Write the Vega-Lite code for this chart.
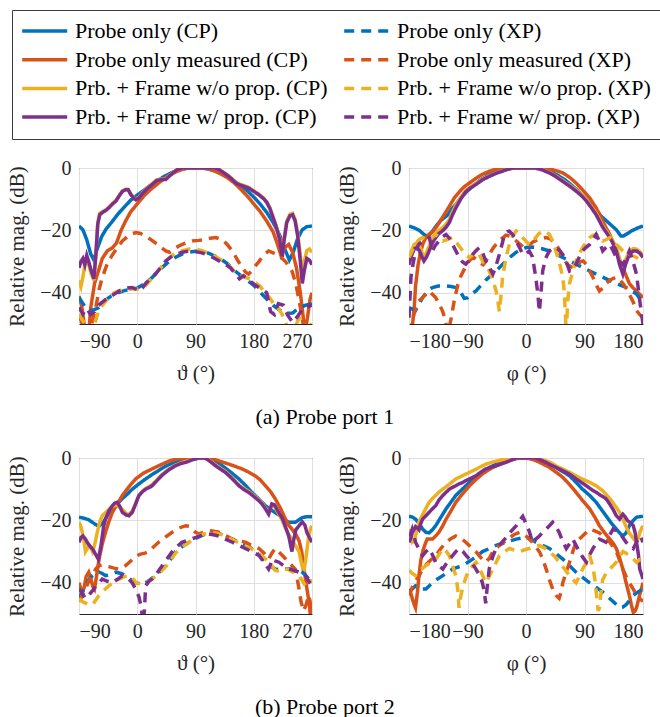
{
"$schema":"https://vega.github.io/schema/vega-lite/v6.json",
"background":"white",
"padding":{"left":6,"top":9,"right":2,"bottom":2},
"config":{
"font":"Liberation Serif",
"view":{"stroke":"#262626","strokeWidth":1},
"axis":{"labelFont":"Liberation Serif","labelFontSize":20,"titleFont":"Liberation Serif","titleFontSize":21,"titleFontWeight":"normal","labelColor":"#262626","titleColor":"#262626","domain":false,"ticks":false,"tickSize":0,"gridColor":"#dfdfdf","gridWidth":1,"gridOpacity":1,"labelPadding":8},
"axisX":{"labelPadding":7,"titlePadding":11},
"axisY":{"titlePadding":12},
"legend":{"columns":2,"symbolType":"M-1.2,0L3.8,0","symbolSize":324,"symbolStrokeWidth":3.5,"labelFont":"Liberation Serif","labelFontSize":22,"labelColor":"black","labelLimit":400,"labelOffset":31,"columnPadding":9,"rowPadding":6.7,"padding":10,"strokeColor":"#3c3c3c","fillColor":"white"},
"title":{"font":"Liberation Serif","fontSize":22,"fontWeight":"normal","color":"black"},
"line":{"strokeWidth":3.5,"clip":true}
},
"resolve":{"scale":{"color":"shared","strokeDash":"shared"},"legend":{"color":"shared","strokeDash":"shared"}},
"spacing":19,
"datasets":{
"p1":[
{"s":"C1","ang":-90,"dB":-18.6},{"s":"C1","ang":-84,"dB":-19.8},{"s":"C1","ang":-78,"dB":-23},{"s":"C1","ang":-72,"dB":-27.5},{"s":"C1","ang":-67,"dB":-29.5},{"s":"C1","ang":-62,"dB":-26},{"s":"C1","ang":-55,"dB":-22},{"s":"C1","ang":-48,"dB":-19.5},{"s":"C1","ang":-40,"dB":-17.5},{"s":"C1","ang":-30,"dB":-14.8},{"s":"C1","ang":-20,"dB":-12.5},{"s":"C1","ang":-10,"dB":-10.3},{"s":"C1","ang":0,"dB":-8.7},{"s":"C1","ang":10,"dB":-7.2},{"s":"C1","ang":20,"dB":-5.6},{"s":"C1","ang":30,"dB":-4.2},{"s":"C1","ang":40,"dB":-2.9},{"s":"C1","ang":50,"dB":-1.8},{"s":"C1","ang":60,"dB":-0.9},{"s":"C1","ang":70,"dB":-0.3},{"s":"C1","ang":80,"dB":0},{"s":"C1","ang":100,"dB":0},{"s":"C1","ang":110,"dB":-0.3},{"s":"C1","ang":120,"dB":-0.9},{"s":"C1","ang":130,"dB":-1.8},{"s":"C1","ang":140,"dB":-2.9},{"s":"C1","ang":150,"dB":-4.2},{"s":"C1","ang":160,"dB":-5.6},{"s":"C1","ang":170,"dB":-7.3},{"s":"C1","ang":180,"dB":-9.3},{"s":"C1","ang":190,"dB":-11.6},{"s":"C1","ang":200,"dB":-14.2},{"s":"C1","ang":210,"dB":-17.5},{"s":"C1","ang":220,"dB":-21.5},{"s":"C1","ang":228,"dB":-26},{"s":"C1","ang":235,"dB":-29.5},{"s":"C1","ang":241,"dB":-27},{"s":"C1","ang":248,"dB":-22.5},{"s":"C1","ang":255,"dB":-19.8},{"s":"C1","ang":262,"dB":-18.8},{"s":"C1","ang":270,"dB":-18.6},
{"s":"C2","ang":-90,"dB":-41},{"s":"C2","ang":-86,"dB":-44},{"s":"C2","ang":-82,"dB":-50},{"s":"C2","ang":-79,"dB":-54},{"s":"C2","ang":-75,"dB":-53},{"s":"C2","ang":-72,"dB":-45},{"s":"C2","ang":-66,"dB":-37},{"s":"C2","ang":-60,"dB":-33},{"s":"C2","ang":-54,"dB":-29},{"s":"C2","ang":-46,"dB":-26.5},{"s":"C2","ang":-38,"dB":-25.5},{"s":"C2","ang":-32,"dB":-24},{"s":"C2","ang":-25,"dB":-20},{"s":"C2","ang":-18,"dB":-17},{"s":"C2","ang":-10,"dB":-14},{"s":"C2","ang":0,"dB":-11.5},{"s":"C2","ang":10,"dB":-9},{"s":"C2","ang":20,"dB":-7},{"s":"C2","ang":30,"dB":-5.3},{"s":"C2","ang":40,"dB":-3.7},{"s":"C2","ang":50,"dB":-2.3},{"s":"C2","ang":60,"dB":-1.2},{"s":"C2","ang":70,"dB":-0.4},{"s":"C2","ang":80,"dB":0},{"s":"C2","ang":100,"dB":0},{"s":"C2","ang":110,"dB":-0.3},{"s":"C2","ang":120,"dB":-1},{"s":"C2","ang":130,"dB":-2},{"s":"C2","ang":140,"dB":-3.2},{"s":"C2","ang":150,"dB":-4.8},{"s":"C2","ang":160,"dB":-6.8},{"s":"C2","ang":170,"dB":-9},{"s":"C2","ang":180,"dB":-11.5},{"s":"C2","ang":190,"dB":-14},{"s":"C2","ang":200,"dB":-17},{"s":"C2","ang":210,"dB":-20.5},{"s":"C2","ang":216,"dB":-24},{"s":"C2","ang":222,"dB":-28},{"s":"C2","ang":228,"dB":-25.5},{"s":"C2","ang":234,"dB":-24.5},{"s":"C2","ang":240,"dB":-27},{"s":"C2","ang":246,"dB":-32},{"s":"C2","ang":252,"dB":-40},{"s":"C2","ang":256,"dB":-47},{"s":"C2","ang":259,"dB":-53},{"s":"C2","ang":263,"dB":-48},{"s":"C2","ang":267,"dB":-42},{"s":"C2","ang":270,"dB":-40},
{"s":"C3","ang":-90,"dB":-36},{"s":"C3","ang":-87,"dB":-38},{"s":"C3","ang":-84,"dB":-35},{"s":"C3","ang":-81,"dB":-31},{"s":"C3","ang":-78,"dB":-30},{"s":"C3","ang":-75,"dB":-31},{"s":"C3","ang":-71,"dB":-34},{"s":"C3","ang":-67,"dB":-36},{"s":"C3","ang":-64,"dB":-28},{"s":"C3","ang":-61,"dB":-17.5},{"s":"C3","ang":-58,"dB":-14.5},{"s":"C3","ang":-54,"dB":-14},{"s":"C3","ang":-48,"dB":-13.3},{"s":"C3","ang":-44,"dB":-12.6},{"s":"C3","ang":-38,"dB":-11.3},{"s":"C3","ang":-33,"dB":-10.4},{"s":"C3","ang":-28,"dB":-8.8},{"s":"C3","ang":-23,"dB":-7.3},{"s":"C3","ang":-18,"dB":-6.8},{"s":"C3","ang":-14,"dB":-6.8},{"s":"C3","ang":-10,"dB":-8.3},{"s":"C3","ang":-5,"dB":-9.6},{"s":"C3","ang":-2,"dB":-10},{"s":"C3","ang":3,"dB":-9.3},{"s":"C3","ang":8,"dB":-8},{"s":"C3","ang":15,"dB":-6.5},{"s":"C3","ang":23,"dB":-5.1},{"s":"C3","ang":30,"dB":-3.8},{"s":"C3","ang":38,"dB":-3.5},{"s":"C3","ang":44,"dB":-3.5},{"s":"C3","ang":50,"dB":-2.3},{"s":"C3","ang":56,"dB":-1.3},{"s":"C3","ang":62,"dB":-0.4},{"s":"C3","ang":68,"dB":0},{"s":"C3","ang":120,"dB":0},{"s":"C3","ang":126,"dB":-0.4},{"s":"C3","ang":132,"dB":-1.2},{"s":"C3","ang":140,"dB":-2.3},{"s":"C3","ang":147,"dB":-3.5},{"s":"C3","ang":152,"dB":-4.6},{"s":"C3","ang":157,"dB":-5.1},{"s":"C3","ang":164,"dB":-5.6},{"s":"C3","ang":172,"dB":-6.2},{"s":"C3","ang":180,"dB":-7.3},{"s":"C3","ang":188,"dB":-8.4},{"s":"C3","ang":195,"dB":-9.6},{"s":"C3","ang":200,"dB":-10.8},{"s":"C3","ang":205,"dB":-12.8},{"s":"C3","ang":210,"dB":-15.8},{"s":"C3","ang":215,"dB":-18.8},{"s":"C3","ang":220,"dB":-22.5},{"s":"C3","ang":224,"dB":-27.5},{"s":"C3","ang":227,"dB":-22.5},{"s":"C3","ang":231,"dB":-17},{"s":"C3","ang":236,"dB":-14.8},{"s":"C3","ang":240,"dB":-14.5},{"s":"C3","ang":244,"dB":-16.5},{"s":"C3","ang":248,"dB":-21},{"s":"C3","ang":252,"dB":-28},{"s":"C3","ang":255,"dB":-34},{"s":"C3","ang":258,"dB":-30},{"s":"C3","ang":262,"dB":-26.5},{"s":"C3","ang":266,"dB":-26},{"s":"C3","ang":270,"dB":-27},
{"s":"C4","ang":-90,"dB":-32},{"s":"C4","ang":-87,"dB":-30},{"s":"C4","ang":-84,"dB":-29},{"s":"C4","ang":-81,"dB":-31},{"s":"C4","ang":-78,"dB":-28},{"s":"C4","ang":-75,"dB":-30},{"s":"C4","ang":-71,"dB":-33},{"s":"C4","ang":-67,"dB":-35.5},{"s":"C4","ang":-64,"dB":-28},{"s":"C4","ang":-61,"dB":-18},{"s":"C4","ang":-58,"dB":-15},{"s":"C4","ang":-54,"dB":-14.3},{"s":"C4","ang":-48,"dB":-13.5},{"s":"C4","ang":-44,"dB":-12.8},{"s":"C4","ang":-38,"dB":-11.5},{"s":"C4","ang":-33,"dB":-10.6},{"s":"C4","ang":-28,"dB":-9},{"s":"C4","ang":-23,"dB":-7.5},{"s":"C4","ang":-18,"dB":-7},{"s":"C4","ang":-14,"dB":-7},{"s":"C4","ang":-10,"dB":-8.5},{"s":"C4","ang":-5,"dB":-9.8},{"s":"C4","ang":-2,"dB":-10.2},{"s":"C4","ang":3,"dB":-9.5},{"s":"C4","ang":8,"dB":-8.2},{"s":"C4","ang":15,"dB":-6.7},{"s":"C4","ang":23,"dB":-5.3},{"s":"C4","ang":30,"dB":-4},{"s":"C4","ang":38,"dB":-3.7},{"s":"C4","ang":44,"dB":-3.7},{"s":"C4","ang":50,"dB":-2.5},{"s":"C4","ang":56,"dB":-1.4},{"s":"C4","ang":62,"dB":-0.5},{"s":"C4","ang":68,"dB":0},{"s":"C4","ang":120,"dB":0},{"s":"C4","ang":126,"dB":-0.5},{"s":"C4","ang":132,"dB":-1.3},{"s":"C4","ang":140,"dB":-2.5},{"s":"C4","ang":147,"dB":-3.7},{"s":"C4","ang":152,"dB":-4.8},{"s":"C4","ang":157,"dB":-5.3},{"s":"C4","ang":164,"dB":-5.8},{"s":"C4","ang":172,"dB":-6.4},{"s":"C4","ang":180,"dB":-7.5},{"s":"C4","ang":188,"dB":-8.6},{"s":"C4","ang":195,"dB":-9.8},{"s":"C4","ang":200,"dB":-11},{"s":"C4","ang":205,"dB":-13},{"s":"C4","ang":210,"dB":-16},{"s":"C4","ang":215,"dB":-19},{"s":"C4","ang":220,"dB":-23},{"s":"C4","ang":224,"dB":-28.5},{"s":"C4","ang":227,"dB":-23},{"s":"C4","ang":231,"dB":-17.5},{"s":"C4","ang":236,"dB":-15.3},{"s":"C4","ang":240,"dB":-15},{"s":"C4","ang":244,"dB":-17},{"s":"C4","ang":248,"dB":-22},{"s":"C4","ang":252,"dB":-30},{"s":"C4","ang":255,"dB":-37},{"s":"C4","ang":258,"dB":-33},{"s":"C4","ang":262,"dB":-29},{"s":"C4","ang":266,"dB":-29.5},{"s":"C4","ang":270,"dB":-31},
{"s":"X1","ang":-90,"dB":-41.5},{"s":"X1","ang":-80,"dB":-44.7},{"s":"X1","ang":-70,"dB":-45.7},{"s":"X1","ang":-60,"dB":-44.8},{"s":"X1","ang":-50,"dB":-42.5},{"s":"X1","ang":-40,"dB":-41},{"s":"X1","ang":-30,"dB":-40},{"s":"X1","ang":-20,"dB":-39.3},{"s":"X1","ang":-10,"dB":-38.9},{"s":"X1","ang":0,"dB":-38.5},{"s":"X1","ang":10,"dB":-37.3},{"s":"X1","ang":20,"dB":-35.7},{"s":"X1","ang":30,"dB":-33.6},{"s":"X1","ang":40,"dB":-31.6},{"s":"X1","ang":50,"dB":-29.8},{"s":"X1","ang":60,"dB":-28.5},{"s":"X1","ang":70,"dB":-27.5},{"s":"X1","ang":80,"dB":-27},{"s":"X1","ang":90,"dB":-26.7},{"s":"X1","ang":100,"dB":-26.8},{"s":"X1","ang":110,"dB":-27.3},{"s":"X1","ang":120,"dB":-28.2},{"s":"X1","ang":130,"dB":-29.3},{"s":"X1","ang":140,"dB":-30.8},{"s":"X1","ang":150,"dB":-32.8},{"s":"X1","ang":160,"dB":-34.5},{"s":"X1","ang":170,"dB":-36},{"s":"X1","ang":180,"dB":-37.6},{"s":"X1","ang":190,"dB":-39.8},{"s":"X1","ang":200,"dB":-42},{"s":"X1","ang":210,"dB":-44},{"s":"X1","ang":220,"dB":-45.5},{"s":"X1","ang":230,"dB":-46.6},{"s":"X1","ang":240,"dB":-46.5},{"s":"X1","ang":250,"dB":-44.8},{"s":"X1","ang":260,"dB":-44},{"s":"X1","ang":270,"dB":-43.6},
{"s":"X2","ang":-90,"dB":-47},{"s":"X2","ang":-85,"dB":-50},{"s":"X2","ang":-80,"dB":-53},{"s":"X2","ang":-74,"dB":-53},{"s":"X2","ang":-68,"dB":-48},{"s":"X2","ang":-64,"dB":-44.7},{"s":"X2","ang":-59,"dB":-39},{"s":"X2","ang":-54,"dB":-35},{"s":"X2","ang":-46,"dB":-30.5},{"s":"X2","ang":-38,"dB":-27.7},{"s":"X2","ang":-30,"dB":-25.3},{"s":"X2","ang":-23,"dB":-23.4},{"s":"X2","ang":-15,"dB":-22},{"s":"X2","ang":-7,"dB":-21},{"s":"X2","ang":-2,"dB":-20.7},{"s":"X2","ang":5,"dB":-21},{"s":"X2","ang":13,"dB":-21.8},{"s":"X2","ang":20,"dB":-22.8},{"s":"X2","ang":28,"dB":-24},{"s":"X2","ang":36,"dB":-25.3},{"s":"X2","ang":44,"dB":-26.6},{"s":"X2","ang":50,"dB":-27},{"s":"X2","ang":57,"dB":-26},{"s":"X2","ang":64,"dB":-25},{"s":"X2","ang":75,"dB":-24},{"s":"X2","ang":85,"dB":-23.4},{"s":"X2","ang":95,"dB":-23.2},{"s":"X2","ang":105,"dB":-22.9},{"s":"X2","ang":113,"dB":-22.5},{"s":"X2","ang":121,"dB":-22.3},{"s":"X2","ang":131,"dB":-22.9},{"s":"X2","ang":139,"dB":-24.5},{"s":"X2","ang":147,"dB":-26.6},{"s":"X2","ang":155,"dB":-29.5},{"s":"X2","ang":162,"dB":-32},{"s":"X2","ang":168,"dB":-33.5},{"s":"X2","ang":172,"dB":-34},{"s":"X2","ang":177,"dB":-33},{"s":"X2","ang":182,"dB":-31.5},{"s":"X2","ang":188,"dB":-30},{"s":"X2","ang":195,"dB":-28},{"s":"X2","ang":203,"dB":-26.6},{"s":"X2","ang":211,"dB":-27.3},{"s":"X2","ang":219,"dB":-28},{"s":"X2","ang":229,"dB":-30},{"s":"X2","ang":239,"dB":-33},{"s":"X2","ang":245,"dB":-37},{"s":"X2","ang":250,"dB":-42.5},{"s":"X2","ang":255,"dB":-48},{"s":"X2","ang":258,"dB":-53},{"s":"X2","ang":270,"dB":-53},
{"s":"X3","ang":-90,"dB":-47},{"s":"X3","ang":-84,"dB":-49},{"s":"X3","ang":-78,"dB":-50.5},{"s":"X3","ang":-72,"dB":-53},{"s":"X3","ang":-66,"dB":-50},{"s":"X3","ang":-60,"dB":-46},{"s":"X3","ang":-54,"dB":-44},{"s":"X3","ang":-48,"dB":-42.5},{"s":"X3","ang":-40,"dB":-40.5},{"s":"X3","ang":-30,"dB":-39.5},{"s":"X3","ang":-20,"dB":-39},{"s":"X3","ang":-10,"dB":-38.8},{"s":"X3","ang":0,"dB":-38.8},{"s":"X3","ang":8,"dB":-38.6},{"s":"X3","ang":15,"dB":-37.2},{"s":"X3","ang":22,"dB":-35.5},{"s":"X3","ang":30,"dB":-33.5},{"s":"X3","ang":38,"dB":-31.5},{"s":"X3","ang":46,"dB":-29.5},{"s":"X3","ang":54,"dB":-28},{"s":"X3","ang":62,"dB":-27},{"s":"X3","ang":70,"dB":-26.5},{"s":"X3","ang":80,"dB":-26},{"s":"X3","ang":90,"dB":-26},{"s":"X3","ang":100,"dB":-26.5},{"s":"X3","ang":110,"dB":-27.3},{"s":"X3","ang":120,"dB":-28.3},{"s":"X3","ang":130,"dB":-29.5},{"s":"X3","ang":140,"dB":-31},{"s":"X3","ang":150,"dB":-33},{"s":"X3","ang":158,"dB":-34.5},{"s":"X3","ang":166,"dB":-35},{"s":"X3","ang":174,"dB":-35.5},{"s":"X3","ang":182,"dB":-36.5},{"s":"X3","ang":190,"dB":-38},{"s":"X3","ang":198,"dB":-40},{"s":"X3","ang":206,"dB":-42},{"s":"X3","ang":212,"dB":-44},{"s":"X3","ang":218,"dB":-45},{"s":"X3","ang":224,"dB":-47},{"s":"X3","ang":230,"dB":-50},{"s":"X3","ang":236,"dB":-52},{"s":"X3","ang":244,"dB":-51},{"s":"X3","ang":250,"dB":-48},{"s":"X3","ang":256,"dB":-50},{"s":"X3","ang":262,"dB":-51},{"s":"X3","ang":270,"dB":-50},
{"s":"X4","ang":-90,"dB":-44.7},{"s":"X4","ang":-84,"dB":-46.8},{"s":"X4","ang":-78,"dB":-45},{"s":"X4","ang":-72,"dB":-47},{"s":"X4","ang":-66,"dB":-46},{"s":"X4","ang":-60,"dB":-44},{"s":"X4","ang":-54,"dB":-43},{"s":"X4","ang":-48,"dB":-42},{"s":"X4","ang":-44,"dB":-41.5},{"s":"X4","ang":-36,"dB":-40.5},{"s":"X4","ang":-28,"dB":-39.4},{"s":"X4","ang":-18,"dB":-38.5},{"s":"X4","ang":-8,"dB":-38.3},{"s":"X4","ang":0,"dB":-39},{"s":"X4","ang":3,"dB":-39.4},{"s":"X4","ang":8,"dB":-38.5},{"s":"X4","ang":13,"dB":-37},{"s":"X4","ang":20,"dB":-35.5},{"s":"X4","ang":28,"dB":-34},{"s":"X4","ang":36,"dB":-32},{"s":"X4","ang":44,"dB":-29.8},{"s":"X4","ang":52,"dB":-28.5},{"s":"X4","ang":59,"dB":-27.7},{"s":"X4","ang":70,"dB":-27},{"s":"X4","ang":80,"dB":-26.6},{"s":"X4","ang":90,"dB":-26.8},{"s":"X4","ang":100,"dB":-27.2},{"s":"X4","ang":110,"dB":-28},{"s":"X4","ang":120,"dB":-29},{"s":"X4","ang":130,"dB":-30.2},{"s":"X4","ang":136,"dB":-30.8},{"s":"X4","ang":144,"dB":-32},{"s":"X4","ang":152,"dB":-34},{"s":"X4","ang":158,"dB":-35.5},{"s":"X4","ang":164,"dB":-34.5},{"s":"X4","ang":170,"dB":-35.5},{"s":"X4","ang":176,"dB":-36.5},{"s":"X4","ang":182,"dB":-37.5},{"s":"X4","ang":190,"dB":-38.5},{"s":"X4","ang":200,"dB":-40},{"s":"X4","ang":206,"dB":-46},{"s":"X4","ang":212,"dB":-47},{"s":"X4","ang":218,"dB":-43.5},{"s":"X4","ang":226,"dB":-44},{"s":"X4","ang":232,"dB":-47},{"s":"X4","ang":240,"dB":-49.5},{"s":"X4","ang":248,"dB":-47.5},{"s":"X4","ang":256,"dB":-45},{"s":"X4","ang":262,"dB":-44.5},{"s":"X4","ang":270,"dB":-44}
],
"p2":[
{"s":"C1","ang":-180,"dB":-18.6},{"s":"C1","ang":-172,"dB":-19.2},{"s":"C1","ang":-164,"dB":-20},{"s":"C1","ang":-156,"dB":-21.5},{"s":"C1","ang":-150,"dB":-21.8},{"s":"C1","ang":-144,"dB":-20.3},{"s":"C1","ang":-138,"dB":-18.5},{"s":"C1","ang":-132,"dB":-17},{"s":"C1","ang":-126,"dB":-16},{"s":"C1","ang":-120,"dB":-15},{"s":"C1","ang":-114,"dB":-13},{"s":"C1","ang":-108,"dB":-11.7},{"s":"C1","ang":-100,"dB":-9.5},{"s":"C1","ang":-90,"dB":-7.3},{"s":"C1","ang":-80,"dB":-5.5},{"s":"C1","ang":-70,"dB":-3.8},{"s":"C1","ang":-60,"dB":-2.5},{"s":"C1","ang":-50,"dB":-1.4},{"s":"C1","ang":-40,"dB":-0.6},{"s":"C1","ang":-30,"dB":-0.2},{"s":"C1","ang":-20,"dB":0},{"s":"C1","ang":10,"dB":0},{"s":"C1","ang":20,"dB":-0.2},{"s":"C1","ang":30,"dB":-0.6},{"s":"C1","ang":40,"dB":-1.4},{"s":"C1","ang":50,"dB":-2.5},{"s":"C1","ang":60,"dB":-3.8},{"s":"C1","ang":70,"dB":-5.5},{"s":"C1","ang":80,"dB":-7.3},{"s":"C1","ang":90,"dB":-9.5},{"s":"C1","ang":100,"dB":-11.7},{"s":"C1","ang":108,"dB":-13.5},{"s":"C1","ang":116,"dB":-15.5},{"s":"C1","ang":124,"dB":-17},{"s":"C1","ang":132,"dB":-18.5},{"s":"C1","ang":139,"dB":-19.8},{"s":"C1","ang":146,"dB":-21.8},{"s":"C1","ang":150,"dB":-21.8},{"s":"C1","ang":156,"dB":-21},{"s":"C1","ang":164,"dB":-20},{"s":"C1","ang":172,"dB":-19.2},{"s":"C1","ang":180,"dB":-18.6},
{"s":"C2","ang":-180,"dB":-53},{"s":"C2","ang":-175,"dB":-51},{"s":"C2","ang":-172,"dB":-45},{"s":"C2","ang":-170,"dB":-38},{"s":"C2","ang":-166,"dB":-31},{"s":"C2","ang":-162,"dB":-26.6},{"s":"C2","ang":-158,"dB":-24},{"s":"C2","ang":-154,"dB":-22.3},{"s":"C2","ang":-148,"dB":-21},{"s":"C2","ang":-144,"dB":-20.5},{"s":"C2","ang":-138,"dB":-19},{"s":"C2","ang":-132,"dB":-17},{"s":"C2","ang":-126,"dB":-15},{"s":"C2","ang":-118,"dB":-12.3},{"s":"C2","ang":-110,"dB":-9.5},{"s":"C2","ang":-102,"dB":-7.5},{"s":"C2","ang":-95,"dB":-6},{"s":"C2","ang":-87,"dB":-4.8},{"s":"C2","ang":-77,"dB":-3.3},{"s":"C2","ang":-67,"dB":-2},{"s":"C2","ang":-56,"dB":-1},{"s":"C2","ang":-45,"dB":-0.3},{"s":"C2","ang":-35,"dB":0},{"s":"C2","ang":30,"dB":0},{"s":"C2","ang":40,"dB":-0.5},{"s":"C2","ang":50,"dB":-1.1},{"s":"C2","ang":57,"dB":-1.6},{"s":"C2","ang":67,"dB":-3},{"s":"C2","ang":77,"dB":-4.8},{"s":"C2","ang":87,"dB":-7},{"s":"C2","ang":98,"dB":-9.6},{"s":"C2","ang":108,"dB":-12.8},{"s":"C2","ang":118,"dB":-17},{"s":"C2","ang":124,"dB":-19.5},{"s":"C2","ang":129,"dB":-21.3},{"s":"C2","ang":134,"dB":-24},{"s":"C2","ang":139,"dB":-26.6},{"s":"C2","ang":144,"dB":-29.5},{"s":"C2","ang":149,"dB":-32},{"s":"C2","ang":154,"dB":-34.5},{"s":"C2","ang":159,"dB":-37},{"s":"C2","ang":165,"dB":-38.5},{"s":"C2","ang":170,"dB":-39.4},{"s":"C2","ang":175,"dB":-40.5},{"s":"C2","ang":180,"dB":-41.5},
{"s":"C3","ang":-180,"dB":-29},{"s":"C3","ang":-176,"dB":-26.5},{"s":"C3","ang":-172,"dB":-24.5},{"s":"C3","ang":-168,"dB":-24},{"s":"C3","ang":-164,"dB":-25},{"s":"C3","ang":-160,"dB":-27},{"s":"C3","ang":-157,"dB":-28.5},{"s":"C3","ang":-153,"dB":-27},{"s":"C3","ang":-149,"dB":-25},{"s":"C3","ang":-144,"dB":-22.5},{"s":"C3","ang":-139,"dB":-21},{"s":"C3","ang":-134,"dB":-20},{"s":"C3","ang":-128.6,"dB":-19.2},{"s":"C3","ang":-123,"dB":-18},{"s":"C3","ang":-118,"dB":-16.5},{"s":"C3","ang":-113,"dB":-14},{"s":"C3","ang":-108,"dB":-12},{"s":"C3","ang":-100,"dB":-9.3},{"s":"C3","ang":-92.6,"dB":-7.2},{"s":"C3","ang":-85,"dB":-6},{"s":"C3","ang":-77,"dB":-5},{"s":"C3","ang":-67,"dB":-3.6},{"s":"C3","ang":-56.6,"dB":-2.5},{"s":"C3","ang":-46,"dB":-1.6},{"s":"C3","ang":-36,"dB":-0.9},{"s":"C3","ang":-28,"dB":-0.4},{"s":"C3","ang":-20,"dB":0},{"s":"C3","ang":15,"dB":0},{"s":"C3","ang":25,"dB":-0.5},{"s":"C3","ang":36,"dB":-1.4},{"s":"C3","ang":46,"dB":-2.6},{"s":"C3","ang":56.6,"dB":-4},{"s":"C3","ang":67,"dB":-5.5},{"s":"C3","ang":77,"dB":-7},{"s":"C3","ang":85,"dB":-8.4},{"s":"C3","ang":93,"dB":-10.2},{"s":"C3","ang":100,"dB":-12.2},{"s":"C3","ang":108,"dB":-14.5},{"s":"C3","ang":113,"dB":-16.5},{"s":"C3","ang":118,"dB":-18.5},{"s":"C3","ang":124,"dB":-20.3},{"s":"C3","ang":129,"dB":-21.8},{"s":"C3","ang":134,"dB":-23.5},{"s":"C3","ang":139,"dB":-25.5},{"s":"C3","ang":144,"dB":-29},{"s":"C3","ang":149,"dB":-32},{"s":"C3","ang":153,"dB":-29.5},{"s":"C3","ang":159,"dB":-26.8},{"s":"C3","ang":165,"dB":-25.8},{"s":"C3","ang":170,"dB":-26},{"s":"C3","ang":175,"dB":-26.8},{"s":"C3","ang":180,"dB":-28},
{"s":"C4","ang":-180,"dB":-31},{"s":"C4","ang":-176,"dB":-28},{"s":"C4","ang":-172,"dB":-26},{"s":"C4","ang":-168,"dB":-25.5},{"s":"C4","ang":-164,"dB":-26.5},{"s":"C4","ang":-160,"dB":-28.5},{"s":"C4","ang":-157,"dB":-29.8},{"s":"C4","ang":-153,"dB":-28.5},{"s":"C4","ang":-149,"dB":-26.6},{"s":"C4","ang":-144,"dB":-24},{"s":"C4","ang":-139,"dB":-22.3},{"s":"C4","ang":-134,"dB":-21},{"s":"C4","ang":-128.6,"dB":-20.2},{"s":"C4","ang":-123,"dB":-19},{"s":"C4","ang":-118,"dB":-17.5},{"s":"C4","ang":-113,"dB":-15},{"s":"C4","ang":-108,"dB":-12.8},{"s":"C4","ang":-100,"dB":-9.8},{"s":"C4","ang":-92.6,"dB":-7.6},{"s":"C4","ang":-85,"dB":-6.3},{"s":"C4","ang":-77,"dB":-5.3},{"s":"C4","ang":-67,"dB":-3.8},{"s":"C4","ang":-56.6,"dB":-2.7},{"s":"C4","ang":-46,"dB":-1.7},{"s":"C4","ang":-36,"dB":-1},{"s":"C4","ang":-28,"dB":-0.4},{"s":"C4","ang":-20,"dB":0},{"s":"C4","ang":15,"dB":0},{"s":"C4","ang":25,"dB":-0.6},{"s":"C4","ang":36,"dB":-1.6},{"s":"C4","ang":46,"dB":-2.8},{"s":"C4","ang":56.6,"dB":-4.3},{"s":"C4","ang":67,"dB":-5.8},{"s":"C4","ang":77,"dB":-7.4},{"s":"C4","ang":85,"dB":-8.8},{"s":"C4","ang":93,"dB":-10.6},{"s":"C4","ang":100,"dB":-12.6},{"s":"C4","ang":108,"dB":-15},{"s":"C4","ang":113,"dB":-17},{"s":"C4","ang":118,"dB":-19},{"s":"C4","ang":124,"dB":-20.8},{"s":"C4","ang":129,"dB":-22.3},{"s":"C4","ang":134,"dB":-24.2},{"s":"C4","ang":139,"dB":-26.6},{"s":"C4","ang":144,"dB":-31},{"s":"C4","ang":149,"dB":-34},{"s":"C4","ang":153,"dB":-31},{"s":"C4","ang":159,"dB":-27.7},{"s":"C4","ang":165,"dB":-26.6},{"s":"C4","ang":170,"dB":-26.6},{"s":"C4","ang":175,"dB":-27.3},{"s":"C4","ang":180,"dB":-28.7},
{"s":"X1","ang":-180,"dB":-44.7},{"s":"X1","ang":-170,"dB":-45.7},{"s":"X1","ang":-164,"dB":-43.5},{"s":"X1","ang":-159,"dB":-41.5},{"s":"X1","ang":-150,"dB":-39.2},{"s":"X1","ang":-144,"dB":-38.3},{"s":"X1","ang":-135,"dB":-37.8},{"s":"X1","ang":-123,"dB":-37.8},{"s":"X1","ang":-115,"dB":-38},{"s":"X1","ang":-108,"dB":-38.3},{"s":"X1","ang":-100,"dB":-40},{"s":"X1","ang":-95,"dB":-41.8},{"s":"X1","ang":-90,"dB":-41.6},{"s":"X1","ang":-84,"dB":-40.5},{"s":"X1","ang":-77,"dB":-39.4},{"s":"X1","ang":-70,"dB":-37.8},{"s":"X1","ang":-62,"dB":-36},{"s":"X1","ang":-54,"dB":-34.5},{"s":"X1","ang":-46,"dB":-33},{"s":"X1","ang":-38,"dB":-31.3},{"s":"X1","ang":-31,"dB":-29.8},{"s":"X1","ang":-23,"dB":-28.3},{"s":"X1","ang":-15,"dB":-27},{"s":"X1","ang":-8,"dB":-26.2},{"s":"X1","ang":0,"dB":-25.5},{"s":"X1","ang":8,"dB":-25.3},{"s":"X1","ang":15,"dB":-25.5},{"s":"X1","ang":25,"dB":-25.9},{"s":"X1","ang":36,"dB":-26.6},{"s":"X1","ang":46,"dB":-27.6},{"s":"X1","ang":56.6,"dB":-28.7},{"s":"X1","ang":67,"dB":-29.8},{"s":"X1","ang":77,"dB":-30.8},{"s":"X1","ang":88,"dB":-32},{"s":"X1","ang":98,"dB":-33},{"s":"X1","ang":108,"dB":-34},{"s":"X1","ang":118,"dB":-35},{"s":"X1","ang":128,"dB":-36},{"s":"X1","ang":139,"dB":-37},{"s":"X1","ang":147,"dB":-37.7},{"s":"X1","ang":154,"dB":-38.3},{"s":"X1","ang":162,"dB":-39.3},{"s":"X1","ang":170,"dB":-40.4},{"s":"X1","ang":175,"dB":-41.8},{"s":"X1","ang":180,"dB":-43.6},
{"s":"X2","ang":-180,"dB":-53},{"s":"X2","ang":-176,"dB":-50},{"s":"X2","ang":-172,"dB":-46.5},{"s":"X2","ang":-168,"dB":-44},{"s":"X2","ang":-164,"dB":-42.5},{"s":"X2","ang":-159,"dB":-41.5},{"s":"X2","ang":-154,"dB":-40.5},{"s":"X2","ang":-149,"dB":-39.4},{"s":"X2","ang":-144,"dB":-40.5},{"s":"X2","ang":-139,"dB":-41.5},{"s":"X2","ang":-134,"dB":-43.5},{"s":"X2","ang":-128,"dB":-46},{"s":"X2","ang":-123,"dB":-50},{"s":"X2","ang":-120,"dB":-53},{"s":"X2","ang":-115,"dB":-48},{"s":"X2","ang":-110,"dB":-42},{"s":"X2","ang":-105,"dB":-37.5},{"s":"X2","ang":-100,"dB":-34.5},{"s":"X2","ang":-95,"dB":-32.5},{"s":"X2","ang":-90,"dB":-30.5},{"s":"X2","ang":-85,"dB":-29.2},{"s":"X2","ang":-80,"dB":-28.7},{"s":"X2","ang":-75,"dB":-29.5},{"s":"X2","ang":-70,"dB":-30.5},{"s":"X2","ang":-66,"dB":-31},{"s":"X2","ang":-62,"dB":-30},{"s":"X2","ang":-56.6,"dB":-27.7},{"s":"X2","ang":-50,"dB":-25.5},{"s":"X2","ang":-46,"dB":-24.5},{"s":"X2","ang":-38,"dB":-22.8},{"s":"X2","ang":-31,"dB":-21.5},{"s":"X2","ang":-25,"dB":-21.8},{"s":"X2","ang":-18,"dB":-22.8},{"s":"X2","ang":-10,"dB":-24.3},{"s":"X2","ang":-4,"dB":-25.3},{"s":"X2","ang":0,"dB":-25.5},{"s":"X2","ang":5,"dB":-24.8},{"s":"X2","ang":10,"dB":-23.8},{"s":"X2","ang":15,"dB":-23.3},{"s":"X2","ang":22,"dB":-22.7},{"s":"X2","ang":31,"dB":-22.3},{"s":"X2","ang":38,"dB":-22.8},{"s":"X2","ang":46,"dB":-24.5},{"s":"X2","ang":52,"dB":-26.5},{"s":"X2","ang":56.6,"dB":-28.7},{"s":"X2","ang":64,"dB":-31},{"s":"X2","ang":72,"dB":-32},{"s":"X2","ang":78,"dB":-31},{"s":"X2","ang":84,"dB":-30},{"s":"X2","ang":88,"dB":-29.8},{"s":"X2","ang":93,"dB":-31},{"s":"X2","ang":98,"dB":-33},{"s":"X2","ang":103,"dB":-35},{"s":"X2","ang":108,"dB":-37.5},{"s":"X2","ang":113,"dB":-39.4},{"s":"X2","ang":118,"dB":-38.5},{"s":"X2","ang":123,"dB":-37},{"s":"X2","ang":130,"dB":-35.8},{"s":"X2","ang":139,"dB":-35},{"s":"X2","ang":144,"dB":-35.8},{"s":"X2","ang":149,"dB":-37},{"s":"X2","ang":154,"dB":-38.5},{"s":"X2","ang":159,"dB":-40.4},{"s":"X2","ang":165,"dB":-43},{"s":"X2","ang":170,"dB":-45.7},{"s":"X2","ang":175,"dB":-47},{"s":"X2","ang":180,"dB":-47.9},
{"s":"X3","ang":-180,"dB":-28.7},{"s":"X3","ang":-175,"dB":-26.5},{"s":"X3","ang":-170,"dB":-24.5},{"s":"X3","ang":-165,"dB":-23},{"s":"X3","ang":-159,"dB":-22.3},{"s":"X3","ang":-154,"dB":-22.8},{"s":"X3","ang":-149,"dB":-23.4},{"s":"X3","ang":-144,"dB":-22.3},{"s":"X3","ang":-139,"dB":-21.3},{"s":"X3","ang":-134,"dB":-22.2},{"s":"X3","ang":-128,"dB":-23.4},{"s":"X3","ang":-122,"dB":-23},{"s":"X3","ang":-113,"dB":-22.3},{"s":"X3","ang":-108,"dB":-23.5},{"s":"X3","ang":-103,"dB":-25},{"s":"X3","ang":-97,"dB":-26.6},{"s":"X3","ang":-92,"dB":-28},{"s":"X3","ang":-87,"dB":-28.7},{"s":"X3","ang":-82,"dB":-27.8},{"s":"X3","ang":-77,"dB":-26.6},{"s":"X3","ang":-72,"dB":-27.8},{"s":"X3","ang":-67,"dB":-29.8},{"s":"X3","ang":-62,"dB":-31.5},{"s":"X3","ang":-56.6,"dB":-33},{"s":"X3","ang":-51,"dB":-36},{"s":"X3","ang":-46,"dB":-39.4},{"s":"X3","ang":-43,"dB":-43},{"s":"X3","ang":-41,"dB":-46},{"s":"X3","ang":-38.5,"dB":-41},{"s":"X3","ang":-36,"dB":-35},{"s":"X3","ang":-31,"dB":-29},{"s":"X3","ang":-25.7,"dB":-24.5},{"s":"X3","ang":-20,"dB":-21.5},{"s":"X3","ang":-15,"dB":-20.2},{"s":"X3","ang":-10,"dB":-21},{"s":"X3","ang":-5,"dB":-22.3},{"s":"X3","ang":0,"dB":-23.5},{"s":"X3","ang":5,"dB":-24.5},{"s":"X3","ang":10,"dB":-23.5},{"s":"X3","ang":15,"dB":-22.3},{"s":"X3","ang":20,"dB":-21},{"s":"X3","ang":25.7,"dB":-20.2},{"s":"X3","ang":31,"dB":-20.5},{"s":"X3","ang":36,"dB":-21.3},{"s":"X3","ang":41,"dB":-23.5},{"s":"X3","ang":46,"dB":-26.6},{"s":"X3","ang":51,"dB":-30},{"s":"X3","ang":56.6,"dB":-35},{"s":"X3","ang":59,"dB":-40},{"s":"X3","ang":62,"dB":-53},{"s":"X3","ang":64,"dB":-43},{"s":"X3","ang":67,"dB":-37},{"s":"X3","ang":72,"dB":-33},{"s":"X3","ang":77,"dB":-29.8},{"s":"X3","ang":82,"dB":-27.5},{"s":"X3","ang":87,"dB":-25.5},{"s":"X3","ang":92,"dB":-24},{"s":"X3","ang":98,"dB":-22.3},{"s":"X3","ang":103,"dB":-21.6},{"s":"X3","ang":108,"dB":-21.3},{"s":"X3","ang":113,"dB":-22},{"s":"X3","ang":118,"dB":-23.4},{"s":"X3","ang":123,"dB":-23},{"s":"X3","ang":129,"dB":-22.3},{"s":"X3","ang":134,"dB":-23.2},{"s":"X3","ang":139,"dB":-24.5},{"s":"X3","ang":144,"dB":-25.5},{"s":"X3","ang":149,"dB":-26.6},{"s":"X3","ang":154,"dB":-27.2},{"s":"X3","ang":159,"dB":-27.7},{"s":"X3","ang":165,"dB":-28.2},{"s":"X3","ang":170,"dB":-28.7},{"s":"X3","ang":175,"dB":-29.3},{"s":"X3","ang":180,"dB":-29.8},
{"s":"X4","ang":-180,"dB":-48},{"s":"X4","ang":-177,"dB":-35},{"s":"X4","ang":-174,"dB":-31},{"s":"X4","ang":-170,"dB":-26.6},{"s":"X4","ang":-165,"dB":-24.5},{"s":"X4","ang":-159,"dB":-23.4},{"s":"X4","ang":-154,"dB":-22.8},{"s":"X4","ang":-149,"dB":-22.3},{"s":"X4","ang":-146,"dB":-24.5},{"s":"X4","ang":-144,"dB":-26.6},{"s":"X4","ang":-140,"dB":-25},{"s":"X4","ang":-134,"dB":-23.4},{"s":"X4","ang":-128,"dB":-22},{"s":"X4","ang":-123,"dB":-21.3},{"s":"X4","ang":-118,"dB":-22.5},{"s":"X4","ang":-113,"dB":-24.5},{"s":"X4","ang":-108,"dB":-26.5},{"s":"X4","ang":-103,"dB":-28.7},{"s":"X4","ang":-98,"dB":-30},{"s":"X4","ang":-92.6,"dB":-30.8},{"s":"X4","ang":-87,"dB":-29.5},{"s":"X4","ang":-82,"dB":-27.7},{"s":"X4","ang":-77,"dB":-26.5},{"s":"X4","ang":-72,"dB":-25.5},{"s":"X4","ang":-67,"dB":-27},{"s":"X4","ang":-62,"dB":-29.8},{"s":"X4","ang":-56,"dB":-32},{"s":"X4","ang":-51,"dB":-34},{"s":"X4","ang":-47,"dB":-32},{"s":"X4","ang":-41,"dB":-27.7},{"s":"X4","ang":-37,"dB":-24.5},{"s":"X4","ang":-33,"dB":-21.3},{"s":"X4","ang":-29,"dB":-20.5},{"s":"X4","ang":-25.7,"dB":-20.2},{"s":"X4","ang":-20,"dB":-21.5},{"s":"X4","ang":-15,"dB":-23.4},{"s":"X4","ang":-10,"dB":-25.5},{"s":"X4","ang":-5,"dB":-27.7},{"s":"X4","ang":0,"dB":-27.5},{"s":"X4","ang":5,"dB":-26.6},{"s":"X4","ang":10,"dB":-28.5},{"s":"X4","ang":15,"dB":-35},{"s":"X4","ang":18,"dB":-40},{"s":"X4","ang":20.6,"dB":-46},{"s":"X4","ang":23,"dB":-40},{"s":"X4","ang":25.7,"dB":-33},{"s":"X4","ang":30,"dB":-29},{"s":"X4","ang":36,"dB":-26.6},{"s":"X4","ang":41,"dB":-25.8},{"s":"X4","ang":46,"dB":-25.5},{"s":"X4","ang":51,"dB":-26.3},{"s":"X4","ang":56.6,"dB":-27.7},{"s":"X4","ang":62,"dB":-30},{"s":"X4","ang":67,"dB":-33},{"s":"X4","ang":72,"dB":-32.5},{"s":"X4","ang":77,"dB":-30.8},{"s":"X4","ang":82,"dB":-28.5},{"s":"X4","ang":87,"dB":-26.6},{"s":"X4","ang":92,"dB":-25.5},{"s":"X4","ang":98,"dB":-24.5},{"s":"X4","ang":103,"dB":-23},{"s":"X4","ang":108,"dB":-21.3},{"s":"X4","ang":113,"dB":-23.5},{"s":"X4","ang":118,"dB":-26.6},{"s":"X4","ang":123,"dB":-25.5},{"s":"X4","ang":129,"dB":-24.5},{"s":"X4","ang":134,"dB":-26.5},{"s":"X4","ang":139,"dB":-28.7},{"s":"X4","ang":144,"dB":-30},{"s":"X4","ang":149,"dB":-31},{"s":"X4","ang":154,"dB":-29},{"s":"X4","ang":159,"dB":-26.6},{"s":"X4","ang":164,"dB":-29.5},{"s":"X4","ang":170,"dB":-34},{"s":"X4","ang":175,"dB":-42.5},{"s":"X4","ang":180,"dB":-50}
],
"p3":[
{"s":"C1","ang":-90,"dB":-19},{"s":"C1","ang":-82,"dB":-19.3},{"s":"C1","ang":-75,"dB":-19.8},{"s":"C1","ang":-68,"dB":-20.8},{"s":"C1","ang":-62,"dB":-21.6},{"s":"C1","ang":-58,"dB":-21.7},{"s":"C1","ang":-52,"dB":-20.5},{"s":"C1","ang":-45,"dB":-18},{"s":"C1","ang":-38.5,"dB":-16.3},{"s":"C1","ang":-30,"dB":-14.5},{"s":"C1","ang":-23,"dB":-13},{"s":"C1","ang":-15,"dB":-11.5},{"s":"C1","ang":-7.7,"dB":-10},{"s":"C1","ang":0,"dB":-8.7},{"s":"C1","ang":13,"dB":-6.7},{"s":"C1","ang":23,"dB":-5.3},{"s":"C1","ang":33,"dB":-4},{"s":"C1","ang":45,"dB":-2.5},{"s":"C1","ang":59,"dB":-1.2},{"s":"C1","ang":70,"dB":-0.5},{"s":"C1","ang":85,"dB":0},{"s":"C1","ang":105,"dB":0},{"s":"C1","ang":115,"dB":-0.5},{"s":"C1","ang":125,"dB":-1.5},{"s":"C1","ang":136,"dB":-3.2},{"s":"C1","ang":146,"dB":-4.8},{"s":"C1","ang":157,"dB":-6.7},{"s":"C1","ang":167,"dB":-8.7},{"s":"C1","ang":177,"dB":-11},{"s":"C1","ang":188,"dB":-13.2},{"s":"C1","ang":198,"dB":-15.3},{"s":"C1","ang":208,"dB":-16.8},{"s":"C1","ang":219,"dB":-18.3},{"s":"C1","ang":228,"dB":-19.8},{"s":"C1","ang":234,"dB":-20.6},{"s":"C1","ang":244,"dB":-20.6},{"s":"C1","ang":250,"dB":-19.8},{"s":"C1","ang":255,"dB":-19.1},{"s":"C1","ang":262,"dB":-18.8},{"s":"C1","ang":270,"dB":-18.8},
{"s":"C2","ang":-90,"dB":-40},{"s":"C2","ang":-87,"dB":-42},{"s":"C2","ang":-85,"dB":-43.5},{"s":"C2","ang":-82,"dB":-41.5},{"s":"C2","ang":-79,"dB":-38},{"s":"C2","ang":-75,"dB":-36.6},{"s":"C2","ang":-72,"dB":-38.5},{"s":"C2","ang":-69,"dB":-41},{"s":"C2","ang":-66,"dB":-42},{"s":"C2","ang":-63,"dB":-38},{"s":"C2","ang":-59,"dB":-32.4},{"s":"C2","ang":-54,"dB":-27.5},{"s":"C2","ang":-49,"dB":-23.8},{"s":"C2","ang":-44,"dB":-20.5},{"s":"C2","ang":-38.5,"dB":-17.4},{"s":"C2","ang":-30,"dB":-14.5},{"s":"C2","ang":-23,"dB":-12},{"s":"C2","ang":-12,"dB":-9},{"s":"C2","ang":-2.5,"dB":-6.7},{"s":"C2","ang":10,"dB":-4.8},{"s":"C2","ang":23,"dB":-3.5},{"s":"C2","ang":36,"dB":-2.2},{"s":"C2","ang":49,"dB":-1},{"s":"C2","ang":62,"dB":-0.3},{"s":"C2","ang":74,"dB":0},{"s":"C2","ang":110,"dB":0},{"s":"C2","ang":123,"dB":-0.7},{"s":"C2","ang":136,"dB":-1.6},{"s":"C2","ang":149,"dB":-2.5},{"s":"C2","ang":162,"dB":-3.5},{"s":"C2","ang":172,"dB":-4.5},{"s":"C2","ang":182,"dB":-5.7},{"s":"C2","ang":190,"dB":-7},{"s":"C2","ang":198,"dB":-8.9},{"s":"C2","ang":206,"dB":-10.8},{"s":"C2","ang":213,"dB":-13},{"s":"C2","ang":221,"dB":-16},{"s":"C2","ang":229,"dB":-19.6},{"s":"C2","ang":234,"dB":-21.5},{"s":"C2","ang":239,"dB":-22.8},{"s":"C2","ang":245,"dB":-24.5},{"s":"C2","ang":250,"dB":-26.5},{"s":"C2","ang":254,"dB":-30},{"s":"C2","ang":257,"dB":-34.5},{"s":"C2","ang":260,"dB":-39},{"s":"C2","ang":263,"dB":-43},{"s":"C2","ang":266,"dB":-47},{"s":"C2","ang":268,"dB":-52},{"s":"C2","ang":270,"dB":-47},
{"s":"C3","ang":-90,"dB":-20.5},{"s":"C3","ang":-87,"dB":-22},{"s":"C3","ang":-85,"dB":-23.8},{"s":"C3","ang":-82,"dB":-27},{"s":"C3","ang":-80,"dB":-30},{"s":"C3","ang":-77,"dB":-29},{"s":"C3","ang":-74,"dB":-28},{"s":"C3","ang":-71,"dB":-29},{"s":"C3","ang":-69,"dB":-30},{"s":"C3","ang":-66,"dB":-28},{"s":"C3","ang":-62,"dB":-24},{"s":"C3","ang":-58,"dB":-20.5},{"s":"C3","ang":-54,"dB":-18.5},{"s":"C3","ang":-49,"dB":-17.5},{"s":"C3","ang":-44,"dB":-16.5},{"s":"C3","ang":-38.5,"dB":-15.5},{"s":"C3","ang":-31,"dB":-15},{"s":"C3","ang":-23,"dB":-16.5},{"s":"C3","ang":-17,"dB":-17.8},{"s":"C3","ang":-12.6,"dB":-18},{"s":"C3","ang":-7.7,"dB":-17},{"s":"C3","ang":-3,"dB":-14.8},{"s":"C3","ang":2.6,"dB":-12},{"s":"C3","ang":8,"dB":-10.7},{"s":"C3","ang":13,"dB":-9.8},{"s":"C3","ang":18,"dB":-9.2},{"s":"C3","ang":23,"dB":-8.5},{"s":"C3","ang":28,"dB":-7.5},{"s":"C3","ang":33,"dB":-6.4},{"s":"C3","ang":38,"dB":-5.3},{"s":"C3","ang":44,"dB":-4.3},{"s":"C3","ang":50,"dB":-3.4},{"s":"C3","ang":59,"dB":-2.3},{"s":"C3","ang":67,"dB":-1.6},{"s":"C3","ang":75,"dB":-1.1},{"s":"C3","ang":85,"dB":-0.5},{"s":"C3","ang":95,"dB":0},{"s":"C3","ang":105,"dB":0},{"s":"C3","ang":112,"dB":-0.8},{"s":"C3","ang":121,"dB":-2.2},{"s":"C3","ang":128,"dB":-3.2},{"s":"C3","ang":136,"dB":-4.3},{"s":"C3","ang":142,"dB":-5.4},{"s":"C3","ang":147,"dB":-6.4},{"s":"C3","ang":152,"dB":-7.5},{"s":"C3","ang":157,"dB":-8.6},{"s":"C3","ang":164,"dB":-9.7},{"s":"C3","ang":172,"dB":-10.7},{"s":"C3","ang":180,"dB":-12},{"s":"C3","ang":188,"dB":-13.4},{"s":"C3","ang":193,"dB":-14.5},{"s":"C3","ang":198,"dB":-16},{"s":"C3","ang":203,"dB":-17.5},{"s":"C3","ang":206,"dB":-16},{"s":"C3","ang":208,"dB":-15},{"s":"C3","ang":212,"dB":-15.5},{"s":"C3","ang":216,"dB":-17},{"s":"C3","ang":220,"dB":-18.5},{"s":"C3","ang":224,"dB":-20},{"s":"C3","ang":229,"dB":-22.5},{"s":"C3","ang":234,"dB":-24.5},{"s":"C3","ang":239,"dB":-26},{"s":"C3","ang":244,"dB":-28},{"s":"C3","ang":250,"dB":-30},{"s":"C3","ang":254,"dB":-34},{"s":"C3","ang":257,"dB":-36.6},{"s":"C3","ang":260,"dB":-33},{"s":"C3","ang":265,"dB":-24.9},{"s":"C3","ang":268,"dB":-22.5},{"s":"C3","ang":270,"dB":-21.7},
{"s":"C4","ang":-90,"dB":-27},{"s":"C4","ang":-87,"dB":-25.5},{"s":"C4","ang":-84,"dB":-25},{"s":"C4","ang":-80,"dB":-26},{"s":"C4","ang":-76,"dB":-27.5},{"s":"C4","ang":-72,"dB":-28.5},{"s":"C4","ang":-68,"dB":-29.5},{"s":"C4","ang":-64,"dB":-31},{"s":"C4","ang":-60,"dB":-32.5},{"s":"C4","ang":-56,"dB":-28},{"s":"C4","ang":-52,"dB":-22},{"s":"C4","ang":-49,"dB":-19.6},{"s":"C4","ang":-44,"dB":-17},{"s":"C4","ang":-38.5,"dB":-15.3},{"s":"C4","ang":-35,"dB":-14.5},{"s":"C4","ang":-31,"dB":-14.2},{"s":"C4","ang":-27,"dB":-15.5},{"s":"C4","ang":-23,"dB":-17.4},{"s":"C4","ang":-17,"dB":-18.3},{"s":"C4","ang":-12.6,"dB":-18.5},{"s":"C4","ang":-7.7,"dB":-17.4},{"s":"C4","ang":-3,"dB":-15},{"s":"C4","ang":2.6,"dB":-12},{"s":"C4","ang":8,"dB":-10.8},{"s":"C4","ang":13,"dB":-10},{"s":"C4","ang":18,"dB":-9.5},{"s":"C4","ang":23,"dB":-8.9},{"s":"C4","ang":28,"dB":-7.8},{"s":"C4","ang":33,"dB":-6.7},{"s":"C4","ang":38,"dB":-5.6},{"s":"C4","ang":44,"dB":-4.6},{"s":"C4","ang":50,"dB":-3.6},{"s":"C4","ang":59,"dB":-2.5},{"s":"C4","ang":67,"dB":-1.8},{"s":"C4","ang":75,"dB":-1.4},{"s":"C4","ang":85,"dB":-0.6},{"s":"C4","ang":95,"dB":0},{"s":"C4","ang":105,"dB":0},{"s":"C4","ang":112,"dB":-1},{"s":"C4","ang":121,"dB":-2.5},{"s":"C4","ang":128,"dB":-3.5},{"s":"C4","ang":136,"dB":-4.6},{"s":"C4","ang":142,"dB":-5.7},{"s":"C4","ang":147,"dB":-6.7},{"s":"C4","ang":152,"dB":-7.8},{"s":"C4","ang":157,"dB":-8.9},{"s":"C4","ang":164,"dB":-10},{"s":"C4","ang":172,"dB":-11},{"s":"C4","ang":180,"dB":-12.3},{"s":"C4","ang":188,"dB":-13.7},{"s":"C4","ang":193,"dB":-14.8},{"s":"C4","ang":198,"dB":-16.3},{"s":"C4","ang":203,"dB":-18},{"s":"C4","ang":206,"dB":-16},{"s":"C4","ang":208,"dB":-14.7},{"s":"C4","ang":212,"dB":-15},{"s":"C4","ang":216,"dB":-16.5},{"s":"C4","ang":220,"dB":-18},{"s":"C4","ang":224,"dB":-19.2},{"s":"C4","ang":229,"dB":-22},{"s":"C4","ang":234,"dB":-25},{"s":"C4","ang":237,"dB":-28},{"s":"C4","ang":239,"dB":-30},{"s":"C4","ang":241,"dB":-27},{"s":"C4","ang":245,"dB":-23},{"s":"C4","ang":250,"dB":-21.7},{"s":"C4","ang":255,"dB":-20.5},{"s":"C4","ang":259,"dB":-21.5},{"s":"C4","ang":262,"dB":-23.8},{"s":"C4","ang":266,"dB":-25.5},{"s":"C4","ang":270,"dB":-27},
{"s":"X1","ang":-90,"dB":-45},{"s":"X1","ang":-85,"dB":-43},{"s":"X1","ang":-80,"dB":-41},{"s":"X1","ang":-75,"dB":-39},{"s":"X1","ang":-69,"dB":-37.7},{"s":"X1","ang":-64,"dB":-37},{"s":"X1","ang":-59,"dB":-36.6},{"s":"X1","ang":-54,"dB":-37},{"s":"X1","ang":-49,"dB":-37.7},{"s":"X1","ang":-42,"dB":-37.3},{"s":"X1","ang":-33,"dB":-36.6},{"s":"X1","ang":-25,"dB":-37},{"s":"X1","ang":-18,"dB":-37.7},{"s":"X1","ang":-10,"dB":-39},{"s":"X1","ang":-2.5,"dB":-40},{"s":"X1","ang":5,"dB":-40.3},{"s":"X1","ang":13,"dB":-40},{"s":"X1","ang":20,"dB":-39},{"s":"X1","ang":28,"dB":-37.7},{"s":"X1","ang":36,"dB":-36.2},{"s":"X1","ang":44,"dB":-34.5},{"s":"X1","ang":52,"dB":-32.3},{"s":"X1","ang":59,"dB":-30},{"s":"X1","ang":70,"dB":-28.3},{"s":"X1","ang":80,"dB":-27},{"s":"X1","ang":90,"dB":-25.8},{"s":"X1","ang":100,"dB":-24.8},{"s":"X1","ang":110,"dB":-24},{"s":"X1","ang":116,"dB":-23.8},{"s":"X1","ang":126,"dB":-24.2},{"s":"X1","ang":136,"dB":-25},{"s":"X1","ang":146,"dB":-26},{"s":"X1","ang":157,"dB":-27},{"s":"X1","ang":167,"dB":-28},{"s":"X1","ang":177,"dB":-29},{"s":"X1","ang":188,"dB":-31},{"s":"X1","ang":198,"dB":-33.4},{"s":"X1","ang":206,"dB":-34.7},{"s":"X1","ang":213,"dB":-35.6},{"s":"X1","ang":221,"dB":-35.8},{"s":"X1","ang":229,"dB":-35.6},{"s":"X1","ang":237,"dB":-35.6},{"s":"X1","ang":244,"dB":-35.6},{"s":"X1","ang":250,"dB":-36},{"s":"X1","ang":255,"dB":-36.6},{"s":"X1","ang":260,"dB":-37.6},{"s":"X1","ang":265,"dB":-38.8},{"s":"X1","ang":270,"dB":-40},
{"s":"X2","ang":-90,"dB":-46},{"s":"X2","ang":-85,"dB":-44},{"s":"X2","ang":-80,"dB":-42},{"s":"X2","ang":-75,"dB":-39.5},{"s":"X2","ang":-69,"dB":-37.5},{"s":"X2","ang":-64,"dB":-35.5},{"s":"X2","ang":-59,"dB":-34.5},{"s":"X2","ang":-54,"dB":-34.3},{"s":"X2","ang":-49,"dB":-34.5},{"s":"X2","ang":-44,"dB":-34.8},{"s":"X2","ang":-36,"dB":-35.3},{"s":"X2","ang":-28,"dB":-35.6},{"s":"X2","ang":-23,"dB":-35.2},{"s":"X2","ang":-18,"dB":-34.5},{"s":"X2","ang":-10,"dB":-33},{"s":"X2","ang":-2.5,"dB":-31.5},{"s":"X2","ang":5,"dB":-30.8},{"s":"X2","ang":12,"dB":-30.5},{"s":"X2","ang":18,"dB":-30},{"s":"X2","ang":25,"dB":-28.5},{"s":"X2","ang":33,"dB":-27},{"s":"X2","ang":44,"dB":-25.3},{"s":"X2","ang":54,"dB":-23.8},{"s":"X2","ang":64,"dB":-22.5},{"s":"X2","ang":75,"dB":-21.7},{"s":"X2","ang":80,"dB":-21.9},{"s":"X2","ang":85,"dB":-22.8},{"s":"X2","ang":90,"dB":-23.8},{"s":"X2","ang":95,"dB":-24.3},{"s":"X2","ang":102,"dB":-23.8},{"s":"X2","ang":110,"dB":-23.3},{"s":"X2","ang":118,"dB":-23.5},{"s":"X2","ang":126,"dB":-23.8},{"s":"X2","ang":136,"dB":-24.8},{"s":"X2","ang":147,"dB":-26},{"s":"X2","ang":157,"dB":-26.5},{"s":"X2","ang":167,"dB":-27},{"s":"X2","ang":177,"dB":-28},{"s":"X2","ang":188,"dB":-29},{"s":"X2","ang":196,"dB":-30.5},{"s":"X2","ang":203,"dB":-32.4},{"s":"X2","ang":208,"dB":-30.5},{"s":"X2","ang":213,"dB":-29},{"s":"X2","ang":218,"dB":-30},{"s":"X2","ang":224,"dB":-31.2},{"s":"X2","ang":229,"dB":-32.3},{"s":"X2","ang":234,"dB":-33.4},{"s":"X2","ang":239,"dB":-34.5},{"s":"X2","ang":244,"dB":-35.6},{"s":"X2","ang":247,"dB":-38.5},{"s":"X2","ang":250,"dB":-42},{"s":"X2","ang":253,"dB":-46},{"s":"X2","ang":257,"dB":-49},{"s":"X2","ang":261,"dB":-47},{"s":"X2","ang":265,"dB":-44},{"s":"X2","ang":268,"dB":-47},{"s":"X2","ang":270,"dB":-49},
{"s":"X3","ang":-90,"dB":-45},{"s":"X3","ang":-85,"dB":-46},{"s":"X3","ang":-80,"dB":-46.5},{"s":"X3","ang":-75,"dB":-47},{"s":"X3","ang":-69,"dB":-47},{"s":"X3","ang":-64,"dB":-45.5},{"s":"X3","ang":-59,"dB":-44},{"s":"X3","ang":-52,"dB":-42.5},{"s":"X3","ang":-44,"dB":-41},{"s":"X3","ang":-36,"dB":-39.8},{"s":"X3","ang":-28,"dB":-38.8},{"s":"X3","ang":-20,"dB":-38},{"s":"X3","ang":-12.6,"dB":-37.7},{"s":"X3","ang":-5,"dB":-39},{"s":"X3","ang":-2.5,"dB":-40},{"s":"X3","ang":5,"dB":-40.3},{"s":"X3","ang":13,"dB":-40},{"s":"X3","ang":20,"dB":-39.2},{"s":"X3","ang":28,"dB":-38},{"s":"X3","ang":36,"dB":-36.5},{"s":"X3","ang":44,"dB":-34.8},{"s":"X3","ang":52,"dB":-32.7},{"s":"X3","ang":59,"dB":-30.5},{"s":"X3","ang":70,"dB":-28.5},{"s":"X3","ang":80,"dB":-27},{"s":"X3","ang":90,"dB":-25.5},{"s":"X3","ang":100,"dB":-24.5},{"s":"X3","ang":110,"dB":-24},{"s":"X3","ang":120,"dB":-24},{"s":"X3","ang":130,"dB":-24.5},{"s":"X3","ang":140,"dB":-25.5},{"s":"X3","ang":150,"dB":-26.5},{"s":"X3","ang":160,"dB":-27.5},{"s":"X3","ang":170,"dB":-28.5},{"s":"X3","ang":180,"dB":-29.5},{"s":"X3","ang":190,"dB":-31},{"s":"X3","ang":198,"dB":-32.3},{"s":"X3","ang":203,"dB":-33.4},{"s":"X3","ang":208,"dB":-34.5},{"s":"X3","ang":213,"dB":-36},{"s":"X3","ang":219,"dB":-36.3},{"s":"X3","ang":226,"dB":-35.5},{"s":"X3","ang":234,"dB":-35.8},{"s":"X3","ang":240,"dB":-36.5},{"s":"X3","ang":245,"dB":-37.2},{"s":"X3","ang":250,"dB":-37.7},{"s":"X3","ang":255,"dB":-39.3},{"s":"X3","ang":260,"dB":-41},{"s":"X3","ang":265,"dB":-40},{"s":"X3","ang":270,"dB":-39},
{"s":"X4","ang":-90,"dB":-42},{"s":"X4","ang":-85,"dB":-43.5},{"s":"X4","ang":-80,"dB":-45},{"s":"X4","ang":-75,"dB":-44},{"s":"X4","ang":-69,"dB":-42.5},{"s":"X4","ang":-64,"dB":-41},{"s":"X4","ang":-59,"dB":-40},{"s":"X4","ang":-54,"dB":-38.8},{"s":"X4","ang":-46,"dB":-39.5},{"s":"X4","ang":-38.5,"dB":-40},{"s":"X4","ang":-30,"dB":-38.8},{"s":"X4","ang":-23,"dB":-37.7},{"s":"X4","ang":-15,"dB":-38.5},{"s":"X4","ang":-7.7,"dB":-40},{"s":"X4","ang":-2.5,"dB":-42},{"s":"X4","ang":2.6,"dB":-44.5},{"s":"X4","ang":6,"dB":-47.5},{"s":"X4","ang":9,"dB":-53},{"s":"X4","ang":11,"dB":-49},{"s":"X4","ang":13,"dB":-41},{"s":"X4","ang":18,"dB":-39.5},{"s":"X4","ang":23,"dB":-38.8},{"s":"X4","ang":30,"dB":-37},{"s":"X4","ang":38.5,"dB":-34.5},{"s":"X4","ang":46,"dB":-32.3},{"s":"X4","ang":54,"dB":-30},{"s":"X4","ang":62,"dB":-28.3},{"s":"X4","ang":69,"dB":-27},{"s":"X4","ang":80,"dB":-26.2},{"s":"X4","ang":90,"dB":-25.5},{"s":"X4","ang":98,"dB":-24.9},{"s":"X4","ang":105,"dB":-24.4},{"s":"X4","ang":116,"dB":-24.5},{"s":"X4","ang":126,"dB":-25},{"s":"X4","ang":136,"dB":-26},{"s":"X4","ang":147,"dB":-27},{"s":"X4","ang":157,"dB":-28},{"s":"X4","ang":167,"dB":-29},{"s":"X4","ang":177,"dB":-30},{"s":"X4","ang":188,"dB":-31.2},{"s":"X4","ang":196,"dB":-33.5},{"s":"X4","ang":203,"dB":-35.6},{"s":"X4","ang":206,"dB":-34},{"s":"X4","ang":208,"dB":-32.4},{"s":"X4","ang":213,"dB":-33},{"s":"X4","ang":219,"dB":-33.4},{"s":"X4","ang":226,"dB":-34.5},{"s":"X4","ang":234,"dB":-35.6},{"s":"X4","ang":242,"dB":-36},{"s":"X4","ang":250,"dB":-36.6},{"s":"X4","ang":255,"dB":-37},{"s":"X4","ang":260,"dB":-37.7},{"s":"X4","ang":265,"dB":-39.5},{"s":"X4","ang":270,"dB":-41}
],
"p4":[
{"s":"C1","ang":-180,"dB":-18.7},{"s":"C1","ang":-175,"dB":-18.9},{"s":"C1","ang":-170,"dB":-19.6},{"s":"C1","ang":-164,"dB":-21},{"s":"C1","ang":-159,"dB":-22.8},{"s":"C1","ang":-154,"dB":-23.8},{"s":"C1","ang":-149,"dB":-24},{"s":"C1","ang":-144,"dB":-23},{"s":"C1","ang":-139,"dB":-21.7},{"s":"C1","ang":-131,"dB":-19},{"s":"C1","ang":-123,"dB":-16.3},{"s":"C1","ang":-115,"dB":-14},{"s":"C1","ang":-108,"dB":-12},{"s":"C1","ang":-97,"dB":-9.8},{"s":"C1","ang":-87,"dB":-7.8},{"s":"C1","ang":-77,"dB":-6.1},{"s":"C1","ang":-67,"dB":-4.6},{"s":"C1","ang":-56,"dB":-3},{"s":"C1","ang":-46,"dB":-2},{"s":"C1","ang":-41,"dB":-1.6},{"s":"C1","ang":-30,"dB":-0.8},{"s":"C1","ang":-15,"dB":0},{"s":"C1","ang":15,"dB":0},{"s":"C1","ang":25,"dB":-0.7},{"s":"C1","ang":36,"dB":-1.8},{"s":"C1","ang":46,"dB":-3},{"s":"C1","ang":56,"dB":-4.3},{"s":"C1","ang":67,"dB":-5.7},{"s":"C1","ang":77,"dB":-7.8},{"s":"C1","ang":87,"dB":-10},{"s":"C1","ang":98,"dB":-12},{"s":"C1","ang":108,"dB":-14.2},{"s":"C1","ang":116,"dB":-16.5},{"s":"C1","ang":123,"dB":-18.5},{"s":"C1","ang":131,"dB":-20.8},{"s":"C1","ang":139,"dB":-22.8},{"s":"C1","ang":144,"dB":-24},{"s":"C1","ang":149,"dB":-25},{"s":"C1","ang":154,"dB":-24},{"s":"C1","ang":159,"dB":-21.7},{"s":"C1","ang":165,"dB":-20},{"s":"C1","ang":170,"dB":-19},{"s":"C1","ang":175,"dB":-18.8},{"s":"C1","ang":180,"dB":-18.7},
{"s":"C2","ang":-180,"dB":-42},{"s":"C2","ang":-177,"dB":-43.5},{"s":"C2","ang":-175,"dB":-45},{"s":"C2","ang":-172,"dB":-47},{"s":"C2","ang":-170,"dB":-48},{"s":"C2","ang":-167,"dB":-43},{"s":"C2","ang":-164.6,"dB":-37.7},{"s":"C2","ang":-162,"dB":-33},{"s":"C2","ang":-159,"dB":-30},{"s":"C2","ang":-155,"dB":-27.5},{"s":"C2","ang":-152,"dB":-26},{"s":"C2","ang":-148,"dB":-26},{"s":"C2","ang":-144,"dB":-26},{"s":"C2","ang":-139,"dB":-25},{"s":"C2","ang":-134,"dB":-23.8},{"s":"C2","ang":-128,"dB":-21.7},{"s":"C2","ang":-123,"dB":-19.6},{"s":"C2","ang":-115,"dB":-16.8},{"s":"C2","ang":-108,"dB":-14.2},{"s":"C2","ang":-97,"dB":-11.3},{"s":"C2","ang":-87,"dB":-8.9},{"s":"C2","ang":-77,"dB":-6.9},{"s":"C2","ang":-67,"dB":-5.1},{"s":"C2","ang":-56,"dB":-3.6},{"s":"C2","ang":-46,"dB":-2.5},{"s":"C2","ang":-36,"dB":-1.5},{"s":"C2","ang":-25,"dB":-0.8},{"s":"C2","ang":-15,"dB":-0.2},{"s":"C2","ang":-5,"dB":0},{"s":"C2","ang":5,"dB":-0.2},{"s":"C2","ang":15,"dB":-0.8},{"s":"C2","ang":25,"dB":-1.8},{"s":"C2","ang":36,"dB":-3},{"s":"C2","ang":46,"dB":-4.5},{"s":"C2","ang":56.6,"dB":-6.2},{"s":"C2","ang":67,"dB":-8.5},{"s":"C2","ang":77,"dB":-11},{"s":"C2","ang":87,"dB":-13.6},{"s":"C2","ang":98,"dB":-16.3},{"s":"C2","ang":106,"dB":-19},{"s":"C2","ang":113,"dB":-21.7},{"s":"C2","ang":121,"dB":-24},{"s":"C2","ang":129,"dB":-26},{"s":"C2","ang":134,"dB":-27.3},{"s":"C2","ang":139,"dB":-29},{"s":"C2","ang":144,"dB":-32},{"s":"C2","ang":149,"dB":-35.6},{"s":"C2","ang":154,"dB":-40},{"s":"C2","ang":159,"dB":-44},{"s":"C2","ang":162,"dB":-47},{"s":"C2","ang":165,"dB":-49.5},{"s":"C2","ang":168,"dB":-49},{"s":"C2","ang":170,"dB":-48},{"s":"C2","ang":173,"dB":-45.5},{"s":"C2","ang":176,"dB":-43},{"s":"C2","ang":180,"dB":-40},
{"s":"C3","ang":-180,"dB":-22.8},{"s":"C3","ang":-178,"dB":-24.5},{"s":"C3","ang":-175,"dB":-27},{"s":"C3","ang":-172,"dB":-26.5},{"s":"C3","ang":-170,"dB":-25},{"s":"C3","ang":-167,"dB":-22.5},{"s":"C3","ang":-164.6,"dB":-20.5},{"s":"C3","ang":-160,"dB":-18.5},{"s":"C3","ang":-155,"dB":-16.5},{"s":"C3","ang":-149,"dB":-14.2},{"s":"C3","ang":-144,"dB":-13},{"s":"C3","ang":-139,"dB":-12},{"s":"C3","ang":-134,"dB":-11},{"s":"C3","ang":-128,"dB":-10},{"s":"C3","ang":-118,"dB":-8.4},{"s":"C3","ang":-108,"dB":-6.7},{"s":"C3","ang":-97,"dB":-5.6},{"s":"C3","ang":-87,"dB":-4.6},{"s":"C3","ang":-77,"dB":-3.6},{"s":"C3","ang":-70,"dB":-2.8},{"s":"C3","ang":-62,"dB":-2},{"s":"C3","ang":-50,"dB":-1.2},{"s":"C3","ang":-36,"dB":-0.5},{"s":"C3","ang":-20,"dB":0},{"s":"C3","ang":15,"dB":0},{"s":"C3","ang":25,"dB":-0.5},{"s":"C3","ang":36,"dB":-1.3},{"s":"C3","ang":46,"dB":-2.5},{"s":"C3","ang":56,"dB":-3.5},{"s":"C3","ang":67,"dB":-4.6},{"s":"C3","ang":77,"dB":-5.7},{"s":"C3","ang":87,"dB":-6.8},{"s":"C3","ang":98,"dB":-7.8},{"s":"C3","ang":108,"dB":-8.9},{"s":"C3","ang":118,"dB":-10.5},{"s":"C3","ang":129,"dB":-13},{"s":"C3","ang":136,"dB":-15},{"s":"C3","ang":144,"dB":-17.4},{"s":"C3","ang":150,"dB":-20},{"s":"C3","ang":155,"dB":-22.5},{"s":"C3","ang":159,"dB":-24},{"s":"C3","ang":164,"dB":-25.5},{"s":"C3","ang":168,"dB":-26.5},{"s":"C3","ang":170,"dB":-27},{"s":"C3","ang":173,"dB":-25.5},{"s":"C3","ang":175,"dB":-24},{"s":"C3","ang":178,"dB":-22.5},{"s":"C3","ang":180,"dB":-21.7},
{"s":"C4","ang":-180,"dB":-27},{"s":"C4","ang":-177,"dB":-25.5},{"s":"C4","ang":-175,"dB":-24},{"s":"C4","ang":-172,"dB":-22.8},{"s":"C4","ang":-170,"dB":-22},{"s":"C4","ang":-167,"dB":-22.5},{"s":"C4","ang":-164.6,"dB":-23},{"s":"C4","ang":-162,"dB":-21},{"s":"C4","ang":-159,"dB":-19.6},{"s":"C4","ang":-154,"dB":-18.5},{"s":"C4","ang":-149,"dB":-17.4},{"s":"C4","ang":-144,"dB":-16.3},{"s":"C4","ang":-139,"dB":-15.3},{"s":"C4","ang":-134,"dB":-13.5},{"s":"C4","ang":-128,"dB":-12},{"s":"C4","ang":-123,"dB":-11},{"s":"C4","ang":-118,"dB":-10},{"s":"C4","ang":-113,"dB":-9.4},{"s":"C4","ang":-108,"dB":-8.9},{"s":"C4","ang":-103,"dB":-8.3},{"s":"C4","ang":-97,"dB":-7.8},{"s":"C4","ang":-92,"dB":-7.2},{"s":"C4","ang":-87,"dB":-6.7},{"s":"C4","ang":-82,"dB":-6.2},{"s":"C4","ang":-77,"dB":-5.7},{"s":"C4","ang":-70,"dB":-4.6},{"s":"C4","ang":-62,"dB":-3.5},{"s":"C4","ang":-54,"dB":-3},{"s":"C4","ang":-46,"dB":-2.5},{"s":"C4","ang":-38,"dB":-1.9},{"s":"C4","ang":-31,"dB":-1.4},{"s":"C4","ang":-23,"dB":-0.7},{"s":"C4","ang":-15,"dB":0},{"s":"C4","ang":15,"dB":0},{"s":"C4","ang":23,"dB":-0.7},{"s":"C4","ang":31,"dB":-1.4},{"s":"C4","ang":38,"dB":-2.2},{"s":"C4","ang":46,"dB":-3},{"s":"C4","ang":54,"dB":-3.8},{"s":"C4","ang":62,"dB":-4.6},{"s":"C4","ang":70,"dB":-5.6},{"s":"C4","ang":77,"dB":-6.7},{"s":"C4","ang":85,"dB":-7.8},{"s":"C4","ang":93,"dB":-8.9},{"s":"C4","ang":100,"dB":-10},{"s":"C4","ang":108,"dB":-11},{"s":"C4","ang":115,"dB":-12},{"s":"C4","ang":123,"dB":-13},{"s":"C4","ang":128,"dB":-14.5},{"s":"C4","ang":134,"dB":-16.5},{"s":"C4","ang":139,"dB":-18.5},{"s":"C4","ang":144,"dB":-19.6},{"s":"C4","ang":147,"dB":-18.5},{"s":"C4","ang":149,"dB":-18},{"s":"C4","ang":152,"dB":-18.7},{"s":"C4","ang":156,"dB":-20},{"s":"C4","ang":159,"dB":-20.5},{"s":"C4","ang":162,"dB":-21},{"s":"C4","ang":165,"dB":-21.7},{"s":"C4","ang":168,"dB":-24},{"s":"C4","ang":170,"dB":-27},{"s":"C4","ang":173,"dB":-31},{"s":"C4","ang":175,"dB":-35.6},{"s":"C4","ang":178,"dB":-37.5},{"s":"C4","ang":180,"dB":-38.8},
{"s":"X1","ang":-180,"dB":-43},{"s":"X1","ang":-175,"dB":-42},{"s":"X1","ang":-170,"dB":-41},{"s":"X1","ang":-165,"dB":-41.5},{"s":"X1","ang":-159,"dB":-42},{"s":"X1","ang":-154,"dB":-42},{"s":"X1","ang":-149,"dB":-41},{"s":"X1","ang":-144,"dB":-40},{"s":"X1","ang":-136,"dB":-38.8},{"s":"X1","ang":-128,"dB":-37.7},{"s":"X1","ang":-120,"dB":-36.6},{"s":"X1","ang":-113,"dB":-35.6},{"s":"X1","ang":-105,"dB":-35},{"s":"X1","ang":-97,"dB":-34.5},{"s":"X1","ang":-90,"dB":-33.5},{"s":"X1","ang":-82,"dB":-32.4},{"s":"X1","ang":-74,"dB":-31.2},{"s":"X1","ang":-67,"dB":-30},{"s":"X1","ang":-56,"dB":-29},{"s":"X1","ang":-46,"dB":-28},{"s":"X1","ang":-38,"dB":-27.5},{"s":"X1","ang":-31,"dB":-27},{"s":"X1","ang":-23,"dB":-26.5},{"s":"X1","ang":-15,"dB":-26},{"s":"X1","ang":-8,"dB":-25.7},{"s":"X1","ang":0,"dB":-25.4},{"s":"X1","ang":8,"dB":-26},{"s":"X1","ang":15,"dB":-27},{"s":"X1","ang":25,"dB":-28},{"s":"X1","ang":36,"dB":-29},{"s":"X1","ang":46,"dB":-30.6},{"s":"X1","ang":56.6,"dB":-32.4},{"s":"X1","ang":67,"dB":-34.5},{"s":"X1","ang":77,"dB":-36.6},{"s":"X1","ang":88,"dB":-38.4},{"s":"X1","ang":98,"dB":-40},{"s":"X1","ang":108,"dB":-41.5},{"s":"X1","ang":118,"dB":-43},{"s":"X1","ang":126,"dB":-44.5},{"s":"X1","ang":134,"dB":-46},{"s":"X1","ang":139,"dB":-47},{"s":"X1","ang":144,"dB":-48},{"s":"X1","ang":149,"dB":-47.8},{"s":"X1","ang":154,"dB":-47},{"s":"X1","ang":160,"dB":-45.5},{"s":"X1","ang":165,"dB":-44},{"s":"X1","ang":172,"dB":-43},{"s":"X1","ang":180,"dB":-42},
{"s":"X2","ang":-180,"dB":-44},{"s":"X2","ang":-175,"dB":-41.5},{"s":"X2","ang":-170,"dB":-39.5},{"s":"X2","ang":-164,"dB":-37.5},{"s":"X2","ang":-159,"dB":-35.6},{"s":"X2","ang":-154,"dB":-34.3},{"s":"X2","ang":-149,"dB":-33.2},{"s":"X2","ang":-144,"dB":-32.2},{"s":"X2","ang":-139,"dB":-31.3},{"s":"X2","ang":-131,"dB":-29},{"s":"X2","ang":-123,"dB":-27},{"s":"X2","ang":-115,"dB":-25.8},{"s":"X2","ang":-108,"dB":-25},{"s":"X2","ang":-100,"dB":-25.8},{"s":"X2","ang":-92.6,"dB":-27},{"s":"X2","ang":-85,"dB":-28.5},{"s":"X2","ang":-77,"dB":-30},{"s":"X2","ang":-70,"dB":-31.8},{"s":"X2","ang":-62,"dB":-33.4},{"s":"X2","ang":-56,"dB":-32},{"s":"X2","ang":-51,"dB":-30},{"s":"X2","ang":-46,"dB":-29},{"s":"X2","ang":-41,"dB":-28},{"s":"X2","ang":-33,"dB":-26.8},{"s":"X2","ang":-25.7,"dB":-25.6},{"s":"X2","ang":-18,"dB":-24.5},{"s":"X2","ang":-10,"dB":-23.8},{"s":"X2","ang":-5,"dB":-24.2},{"s":"X2","ang":0,"dB":-25},{"s":"X2","ang":5,"dB":-26},{"s":"X2","ang":10,"dB":-27},{"s":"X2","ang":15,"dB":-28.5},{"s":"X2","ang":20.6,"dB":-30},{"s":"X2","ang":26,"dB":-32.5},{"s":"X2","ang":31,"dB":-35.6},{"s":"X2","ang":36,"dB":-39},{"s":"X2","ang":41,"dB":-42},{"s":"X2","ang":46,"dB":-44},{"s":"X2","ang":51,"dB":-45},{"s":"X2","ang":54,"dB":-43},{"s":"X2","ang":56.6,"dB":-40},{"s":"X2","ang":62,"dB":-36.5},{"s":"X2","ang":67,"dB":-33.4},{"s":"X2","ang":72,"dB":-30},{"s":"X2","ang":77,"dB":-27},{"s":"X2","ang":82,"dB":-26},{"s":"X2","ang":87,"dB":-25},{"s":"X2","ang":93,"dB":-23.8},{"s":"X2","ang":98,"dB":-22.8},{"s":"X2","ang":105,"dB":-23.3},{"s":"X2","ang":113,"dB":-24},{"s":"X2","ang":121,"dB":-25.5},{"s":"X2","ang":129,"dB":-27},{"s":"X2","ang":134,"dB":-28.5},{"s":"X2","ang":139,"dB":-30},{"s":"X2","ang":144,"dB":-32.7},{"s":"X2","ang":149,"dB":-35.6},{"s":"X2","ang":154,"dB":-38},{"s":"X2","ang":159,"dB":-40},{"s":"X2","ang":165,"dB":-42},{"s":"X2","ang":170,"dB":-44},{"s":"X2","ang":175,"dB":-45},{"s":"X2","ang":180,"dB":-46},
{"s":"X3","ang":-180,"dB":-36},{"s":"X3","ang":-175,"dB":-37},{"s":"X3","ang":-170,"dB":-37.7},{"s":"X3","ang":-165,"dB":-36.5},{"s":"X3","ang":-159,"dB":-35.3},{"s":"X3","ang":-154,"dB":-34.5},{"s":"X3","ang":-149,"dB":-33.8},{"s":"X3","ang":-144,"dB":-33},{"s":"X3","ang":-139,"dB":-32.4},{"s":"X3","ang":-134,"dB":-31},{"s":"X3","ang":-128,"dB":-29},{"s":"X3","ang":-123,"dB":-29.8},{"s":"X3","ang":-118,"dB":-31.3},{"s":"X3","ang":-113,"dB":-34.5},{"s":"X3","ang":-108,"dB":-37.7},{"s":"X3","ang":-105,"dB":-42},{"s":"X3","ang":-103,"dB":-48},{"s":"X3","ang":-101,"dB":-45},{"s":"X3","ang":-97,"dB":-41},{"s":"X3","ang":-92,"dB":-38},{"s":"X3","ang":-87,"dB":-35.6},{"s":"X3","ang":-82,"dB":-34.5},{"s":"X3","ang":-77,"dB":-33.4},{"s":"X3","ang":-72,"dB":-35},{"s":"X3","ang":-67,"dB":-37.5},{"s":"X3","ang":-62,"dB":-40},{"s":"X3","ang":-56.6,"dB":-38},{"s":"X3","ang":-51,"dB":-35.6},{"s":"X3","ang":-46,"dB":-33.5},{"s":"X3","ang":-41,"dB":-31.3},{"s":"X3","ang":-33,"dB":-30},{"s":"X3","ang":-25.7,"dB":-29},{"s":"X3","ang":-18,"dB":-29.5},{"s":"X3","ang":-10,"dB":-30},{"s":"X3","ang":-3,"dB":-29.5},{"s":"X3","ang":5,"dB":-29},{"s":"X3","ang":12,"dB":-28.5},{"s":"X3","ang":20.6,"dB":-28},{"s":"X3","ang":28,"dB":-28.8},{"s":"X3","ang":36,"dB":-30},{"s":"X3","ang":44,"dB":-31.5},{"s":"X3","ang":51,"dB":-33.4},{"s":"X3","ang":59,"dB":-35.5},{"s":"X3","ang":67,"dB":-37.7},{"s":"X3","ang":72,"dB":-39},{"s":"X3","ang":77,"dB":-40},{"s":"X3","ang":82,"dB":-38},{"s":"X3","ang":87,"dB":-35.6},{"s":"X3","ang":93,"dB":-33.5},{"s":"X3","ang":98,"dB":-31.3},{"s":"X3","ang":103,"dB":-35},{"s":"X3","ang":106,"dB":-39},{"s":"X3","ang":109,"dB":-45},{"s":"X3","ang":111,"dB":-49},{"s":"X3","ang":113,"dB":-48},{"s":"X3","ang":116,"dB":-42},{"s":"X3","ang":118,"dB":-39},{"s":"X3","ang":123,"dB":-37},{"s":"X3","ang":129,"dB":-35.6},{"s":"X3","ang":134,"dB":-34.5},{"s":"X3","ang":139,"dB":-33.4},{"s":"X3","ang":144,"dB":-31.7},{"s":"X3","ang":149,"dB":-30},{"s":"X3","ang":154,"dB":-30.5},{"s":"X3","ang":159,"dB":-31.3},{"s":"X3","ang":165,"dB":-32.3},{"s":"X3","ang":170,"dB":-33.4},{"s":"X3","ang":175,"dB":-32.5},{"s":"X3","ang":180,"dB":-31.3},
{"s":"X4","ang":-180,"dB":-25},{"s":"X4","ang":-177,"dB":-24},{"s":"X4","ang":-175,"dB":-22.8},{"s":"X4","ang":-172,"dB":-25},{"s":"X4","ang":-170,"dB":-27},{"s":"X4","ang":-165,"dB":-29},{"s":"X4","ang":-159,"dB":-31.3},{"s":"X4","ang":-154,"dB":-30},{"s":"X4","ang":-149,"dB":-29},{"s":"X4","ang":-144,"dB":-31},{"s":"X4","ang":-139,"dB":-33.4},{"s":"X4","ang":-134,"dB":-34.5},{"s":"X4","ang":-128,"dB":-35.6},{"s":"X4","ang":-123,"dB":-34},{"s":"X4","ang":-118,"dB":-32.5},{"s":"X4","ang":-113,"dB":-31.3},{"s":"X4","ang":-108,"dB":-30},{"s":"X4","ang":-103,"dB":-29},{"s":"X4","ang":-97,"dB":-30},{"s":"X4","ang":-92,"dB":-31.3},{"s":"X4","ang":-87,"dB":-32.4},{"s":"X4","ang":-82,"dB":-34},{"s":"X4","ang":-77,"dB":-35.6},{"s":"X4","ang":-72,"dB":-37.5},{"s":"X4","ang":-67,"dB":-40},{"s":"X4","ang":-64,"dB":-43},{"s":"X4","ang":-62,"dB":-46.6},{"s":"X4","ang":-60,"dB":-42},{"s":"X4","ang":-56.6,"dB":-35.6},{"s":"X4","ang":-51,"dB":-31.5},{"s":"X4","ang":-46,"dB":-29},{"s":"X4","ang":-38,"dB":-27.3},{"s":"X4","ang":-31,"dB":-25.6},{"s":"X4","ang":-23,"dB":-23.5},{"s":"X4","ang":-15,"dB":-21.7},{"s":"X4","ang":-10,"dB":-20},{"s":"X4","ang":-5,"dB":-18.7},{"s":"X4","ang":0,"dB":-21},{"s":"X4","ang":5,"dB":-23.5},{"s":"X4","ang":10,"dB":-27},{"s":"X4","ang":15,"dB":-26},{"s":"X4","ang":20.6,"dB":-25},{"s":"X4","ang":25,"dB":-24},{"s":"X4","ang":31,"dB":-22.8},{"s":"X4","ang":36,"dB":-21.7},{"s":"X4","ang":41,"dB":-20.6},{"s":"X4","ang":46,"dB":-22},{"s":"X4","ang":51,"dB":-23.8},{"s":"X4","ang":56,"dB":-26.5},{"s":"X4","ang":62,"dB":-29},{"s":"X4","ang":67,"dB":-27.5},{"s":"X4","ang":72,"dB":-26},{"s":"X4","ang":77,"dB":-28},{"s":"X4","ang":82,"dB":-30},{"s":"X4","ang":87,"dB":-31.7},{"s":"X4","ang":93,"dB":-33.4},{"s":"X4","ang":98,"dB":-31},{"s":"X4","ang":103,"dB":-29},{"s":"X4","ang":108,"dB":-27.5},{"s":"X4","ang":113,"dB":-26},{"s":"X4","ang":118,"dB":-26.5},{"s":"X4","ang":123,"dB":-27},{"s":"X4","ang":128,"dB":-25},{"s":"X4","ang":134,"dB":-22.8},{"s":"X4","ang":139,"dB":-23.3},{"s":"X4","ang":144,"dB":-24},{"s":"X4","ang":149,"dB":-25.5},{"s":"X4","ang":154,"dB":-27},{"s":"X4","ang":159,"dB":-28},{"s":"X4","ang":165,"dB":-29},{"s":"X4","ang":170,"dB":-27},{"s":"X4","ang":175,"dB":-25},{"s":"X4","ang":178,"dB":-26},{"s":"X4","ang":180,"dB":-27}
]
},
"vconcat":[
{"hconcat":[
{"width":233,"height":156,"data":{"name":"p1"},"mark":{"type":"line","clip":true},
"encoding":{
"x":{"field":"ang","type":"quantitative","scale":{"domain":[-90,270],"nice":false,"zero":false},"axis":{"values":[-90,0,90,180,270],"title":"ϑ (°)"}},
"y":{"field":"dB","type":"quantitative","scale":{"domain":[-50,0],"nice":false},"axis":{"values":[-40,-20,0],"title":"Relative mag. (dB)"}},
"color":{"field":"s","type":"nominal","scale":{"domain":["C1","C2","C3","C4","X1","X2","X3","X4"],"range":["#0072BD","#D95319","#EDB120","#7E2F8E","#0072BD","#D95319","#EDB120","#7E2F8E"]},"legend":{"title":null,"orient":"none","legendX":-67,"legendY":-158,"strokeColor":"#3c3c3c","fillColor":"white","padding":10,"labelExpr":"datum.label=='C1'?'Probe only (CP)':datum.label=='X1'?'Probe only (XP)':datum.label=='C2'?'Probe only measured (CP)':datum.label=='X2'?'Probe only measured (XP)':datum.label=='C3'?'Prb. + Frame w/o prop. (CP)':datum.label=='X3'?'Prb. + Frame w/o prop. (XP)':datum.label=='C4'?'Prb. + Frame w/ prop. (CP)':'Prb. + Frame w/ prop. (XP)'"}},
"strokeDash":{"field":"s","type":"nominal","scale":{"domain":["C1","C2","C3","C4","X1","X2","X3","X4"],"range":[[1,0],[1,0],[1,0],[1,0],[10,7],[10,7],[10,7],[10,7]]},"legend":{"title":null,"orient":"none","legendX":-67,"legendY":-158,"strokeColor":"#3c3c3c","fillColor":"white","padding":10,"labelExpr":"datum.label=='C1'?'Probe only (CP)':datum.label=='X1'?'Probe only (XP)':datum.label=='C2'?'Probe only measured (CP)':datum.label=='X2'?'Probe only measured (XP)':datum.label=='C3'?'Prb. + Frame w/o prop. (CP)':datum.label=='X3'?'Prb. + Frame w/o prop. (XP)':datum.label=='C4'?'Prb. + Frame w/ prop. (CP)':'Prb. + Frame w/ prop. (XP)'"}}
}},
{"width":234,"height":156,"data":{"name":"p2"},"mark":{"type":"line","clip":true},
"encoding":{
"x":{"field":"ang","type":"quantitative","scale":{"domain":[-180,180],"nice":false,"zero":false},"axis":{"values":[-180,-90,0,90,180],"title":"φ (°)"}},
"y":{"field":"dB","type":"quantitative","scale":{"domain":[-50,0],"nice":false},"axis":{"values":[-40,-20,0],"title":"Relative mag. (dB)"}},
"color":{"field":"s","type":"nominal","scale":{"domain":["C1","C2","C3","C4","X1","X2","X3","X4"],"range":["#0072BD","#D95319","#EDB120","#7E2F8E","#0072BD","#D95319","#EDB120","#7E2F8E"]},"legend":{"title":null,"orient":"none","legendX":-67,"legendY":-158,"strokeColor":"#3c3c3c","fillColor":"white","padding":10,"labelExpr":"datum.label=='C1'?'Probe only (CP)':datum.label=='X1'?'Probe only (XP)':datum.label=='C2'?'Probe only measured (CP)':datum.label=='X2'?'Probe only measured (XP)':datum.label=='C3'?'Prb. + Frame w/o prop. (CP)':datum.label=='X3'?'Prb. + Frame w/o prop. (XP)':datum.label=='C4'?'Prb. + Frame w/ prop. (CP)':'Prb. + Frame w/ prop. (XP)'"}},
"strokeDash":{"field":"s","type":"nominal","scale":{"domain":["C1","C2","C3","C4","X1","X2","X3","X4"],"range":[[1,0],[1,0],[1,0],[1,0],[10,7],[10,7],[10,7],[10,7]]},"legend":{"title":null,"orient":"none","legendX":-67,"legendY":-158,"strokeColor":"#3c3c3c","fillColor":"white","padding":10,"labelExpr":"datum.label=='C1'?'Probe only (CP)':datum.label=='X1'?'Probe only (XP)':datum.label=='C2'?'Probe only measured (CP)':datum.label=='X2'?'Probe only measured (XP)':datum.label=='C3'?'Prb. + Frame w/o prop. (CP)':datum.label=='X3'?'Prb. + Frame w/o prop. (XP)':datum.label=='C4'?'Prb. + Frame w/ prop. (CP)':'Prb. + Frame w/ prop. (XP)'"}}
}}
],"spacing":97,"bounds":"flush","resolve":{"scale":{"color":"shared","strokeDash":"shared"},"legend":{"color":"shared","strokeDash":"shared"}},
"title":{"text":"(a)  Probe port 1","orient":"bottom","anchor":"middle","offset":23}},
{"hconcat":[
{"width":233,"height":156,"data":{"name":"p3"},"mark":{"type":"line","clip":true},
"encoding":{
"x":{"field":"ang","type":"quantitative","scale":{"domain":[-90,270],"nice":false,"zero":false},"axis":{"values":[-90,0,90,180,270],"title":"ϑ (°)"}},
"y":{"field":"dB","type":"quantitative","scale":{"domain":[-50,0],"nice":false},"axis":{"values":[-40,-20,0],"title":"Relative mag. (dB)"}},
"color":{"field":"s","type":"nominal","scale":{"domain":["C1","C2","C3","C4","X1","X2","X3","X4"],"range":["#0072BD","#D95319","#EDB120","#7E2F8E","#0072BD","#D95319","#EDB120","#7E2F8E"]},"legend":{"title":null,"orient":"none","legendX":-67,"legendY":-158,"strokeColor":"#3c3c3c","fillColor":"white","padding":10,"labelExpr":"datum.label=='C1'?'Probe only (CP)':datum.label=='X1'?'Probe only (XP)':datum.label=='C2'?'Probe only measured (CP)':datum.label=='X2'?'Probe only measured (XP)':datum.label=='C3'?'Prb. + Frame w/o prop. (CP)':datum.label=='X3'?'Prb. + Frame w/o prop. (XP)':datum.label=='C4'?'Prb. + Frame w/ prop. (CP)':'Prb. + Frame w/ prop. (XP)'"}},
"strokeDash":{"field":"s","type":"nominal","scale":{"domain":["C1","C2","C3","C4","X1","X2","X3","X4"],"range":[[1,0],[1,0],[1,0],[1,0],[10,7],[10,7],[10,7],[10,7]]},"legend":{"title":null,"orient":"none","legendX":-67,"legendY":-158,"strokeColor":"#3c3c3c","fillColor":"white","padding":10,"labelExpr":"datum.label=='C1'?'Probe only (CP)':datum.label=='X1'?'Probe only (XP)':datum.label=='C2'?'Probe only measured (CP)':datum.label=='X2'?'Probe only measured (XP)':datum.label=='C3'?'Prb. + Frame w/o prop. (CP)':datum.label=='X3'?'Prb. + Frame w/o prop. (XP)':datum.label=='C4'?'Prb. + Frame w/ prop. (CP)':'Prb. + Frame w/ prop. (XP)'"}}
}},
{"width":234,"height":156,"data":{"name":"p4"},"mark":{"type":"line","clip":true},
"encoding":{
"x":{"field":"ang","type":"quantitative","scale":{"domain":[-180,180],"nice":false,"zero":false},"axis":{"values":[-180,-90,0,90,180],"title":"φ (°)"}},
"y":{"field":"dB","type":"quantitative","scale":{"domain":[-50,0],"nice":false},"axis":{"values":[-40,-20,0],"title":"Relative mag. (dB)"}},
"color":{"field":"s","type":"nominal","scale":{"domain":["C1","C2","C3","C4","X1","X2","X3","X4"],"range":["#0072BD","#D95319","#EDB120","#7E2F8E","#0072BD","#D95319","#EDB120","#7E2F8E"]},"legend":{"title":null,"orient":"none","legendX":-67,"legendY":-158,"strokeColor":"#3c3c3c","fillColor":"white","padding":10,"labelExpr":"datum.label=='C1'?'Probe only (CP)':datum.label=='X1'?'Probe only (XP)':datum.label=='C2'?'Probe only measured (CP)':datum.label=='X2'?'Probe only measured (XP)':datum.label=='C3'?'Prb. + Frame w/o prop. (CP)':datum.label=='X3'?'Prb. + Frame w/o prop. (XP)':datum.label=='C4'?'Prb. + Frame w/ prop. (CP)':'Prb. + Frame w/ prop. (XP)'"}},
"strokeDash":{"field":"s","type":"nominal","scale":{"domain":["C1","C2","C3","C4","X1","X2","X3","X4"],"range":[[1,0],[1,0],[1,0],[1,0],[10,7],[10,7],[10,7],[10,7]]},"legend":{"title":null,"orient":"none","legendX":-67,"legendY":-158,"strokeColor":"#3c3c3c","fillColor":"white","padding":10,"labelExpr":"datum.label=='C1'?'Probe only (CP)':datum.label=='X1'?'Probe only (XP)':datum.label=='C2'?'Probe only measured (CP)':datum.label=='X2'?'Probe only measured (XP)':datum.label=='C3'?'Prb. + Frame w/o prop. (CP)':datum.label=='X3'?'Prb. + Frame w/o prop. (XP)':datum.label=='C4'?'Prb. + Frame w/ prop. (CP)':'Prb. + Frame w/ prop. (XP)'"}}
}}
],"spacing":97,"bounds":"flush","resolve":{"scale":{"color":"shared","strokeDash":"shared"},"legend":{"color":"shared","strokeDash":"shared"}},
"title":{"text":"(b)  Probe port 2","orient":"bottom","anchor":"middle","offset":23}}
]
}
